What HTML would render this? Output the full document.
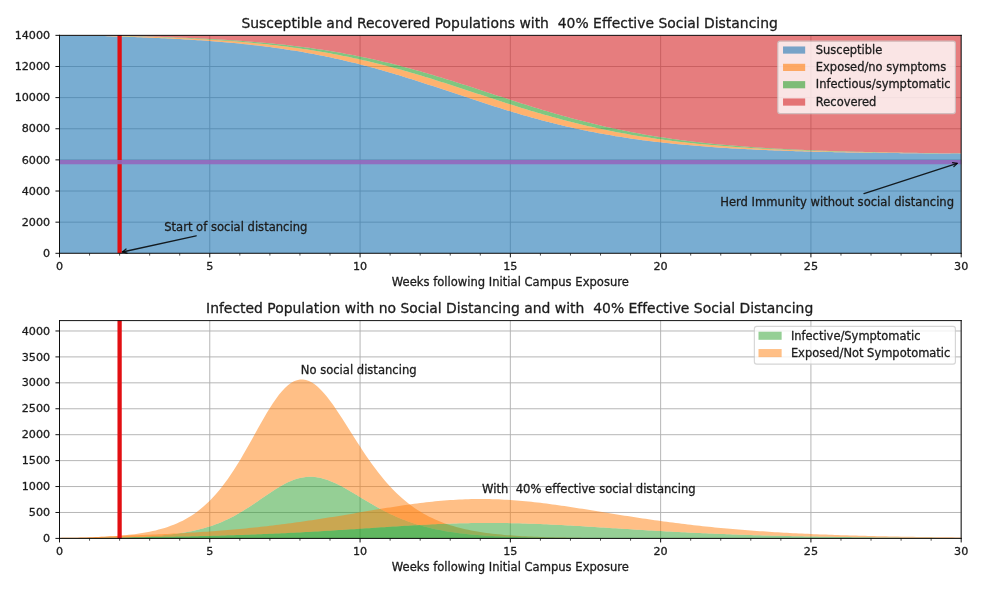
<!DOCTYPE html>
<html lang="en"><head><meta charset="utf-8"><title>SEIR social distancing</title>
<style>
html,body{margin:0;padding:0;background:#fff}
body{width:1000px;height:589px;overflow:hidden}
svg{display:block}
svg text{white-space:pre;font-family:"DejaVu Sans","Liberation Sans",sans-serif;font-variant-ligatures:none;fill:#1c1c1c;stroke:#1c1c1c;stroke-width:.3px}
</style></head><body>
<svg width="1000" height="589" viewBox="0 0 1000 589">
 <defs>
  <style type="text/css">*{stroke-linejoin: round; stroke-linecap: butt}</style>
 </defs>
 <g id="figure_1">
  <g id="patch_1">
   <path d="M 0 589 L 1000 589 L 1000 0 L 0 0 z" style="fill: #ffffff"/>
  </g>
  <g id="axes_1">
   <g id="patch_2">
    <path d="M 59.5 253.3 L 961.2 253.3 L 961.2 35.35 L 59.5 35.35 z" style="fill: #ffffff"/>
   </g>
   <g id="matplotlib.axis_1">
    <g id="xtick_1">
     <g id="line2d_1">
      <path d="M 59.5 253.3 L 59.5 35.35" clip-path="url(#p49906fe7d5)" style="fill: none; stroke: #b0b0b0; stroke-width: 0.93; stroke-linecap: square"/>
     </g>
     <g id="line2d_2">
      <defs>
       <path id="m286226e05e" d="M 0 0 L 0 4.05" style="stroke: #000000; stroke-width: 0.93"/>
      </defs>
      <g>
       <use href="#m286226e05e" x="59.5" y="253.3" style="stroke: #000000; stroke-width: 0.93"/>
      </g>
     </g>
     <g id="text_1">
      <text style="font-size: 11.17px; text-anchor: middle" x="59.5" y="270">0</text>
     </g>
    </g>
    <g id="xtick_2">
     <g id="line2d_3">
      <path d="M 209.78 253.3 L 209.78 35.35" clip-path="url(#p49906fe7d5)" style="fill: none; stroke: #b0b0b0; stroke-width: 0.93; stroke-linecap: square"/>
     </g>
     <g id="line2d_4">
      <g>
       <use href="#m286226e05e" x="209.78" y="253.3" style="stroke: #000000; stroke-width: 0.93"/>
      </g>
     </g>
     <g id="text_2">
      <text style="font-size: 11.17px; text-anchor: middle" x="209.78" y="270">5</text>
     </g>
    </g>
    <g id="xtick_3">
     <g id="line2d_5">
      <path d="M 360.07 253.3 L 360.07 35.35" clip-path="url(#p49906fe7d5)" style="fill: none; stroke: #b0b0b0; stroke-width: 0.93; stroke-linecap: square"/>
     </g>
     <g id="line2d_6">
      <g>
       <use href="#m286226e05e" x="360.07" y="253.3" style="stroke: #000000; stroke-width: 0.93"/>
      </g>
     </g>
     <g id="text_3">
      <text style="font-size: 11.17px; text-anchor: middle" x="360.07" y="270">10</text>
     </g>
    </g>
    <g id="xtick_4">
     <g id="line2d_7">
      <path d="M 510.35 253.3 L 510.35 35.35" clip-path="url(#p49906fe7d5)" style="fill: none; stroke: #b0b0b0; stroke-width: 0.93; stroke-linecap: square"/>
     </g>
     <g id="line2d_8">
      <g>
       <use href="#m286226e05e" x="510.35" y="253.3" style="stroke: #000000; stroke-width: 0.93"/>
      </g>
     </g>
     <g id="text_4">
      <text style="font-size: 11.17px; text-anchor: middle" x="510.35" y="270">15</text>
     </g>
    </g>
    <g id="xtick_5">
     <g id="line2d_9">
      <path d="M 660.63 253.3 L 660.63 35.35" clip-path="url(#p49906fe7d5)" style="fill: none; stroke: #b0b0b0; stroke-width: 0.93; stroke-linecap: square"/>
     </g>
     <g id="line2d_10">
      <g>
       <use href="#m286226e05e" x="660.63" y="253.3" style="stroke: #000000; stroke-width: 0.93"/>
      </g>
     </g>
     <g id="text_5">
      <text style="font-size: 11.17px; text-anchor: middle" x="660.63" y="270">20</text>
     </g>
    </g>
    <g id="xtick_6">
     <g id="line2d_11">
      <path d="M 810.92 253.3 L 810.92 35.35" clip-path="url(#p49906fe7d5)" style="fill: none; stroke: #b0b0b0; stroke-width: 0.93; stroke-linecap: square"/>
     </g>
     <g id="line2d_12">
      <g>
       <use href="#m286226e05e" x="810.92" y="253.3" style="stroke: #000000; stroke-width: 0.93"/>
      </g>
     </g>
     <g id="text_6">
      <text style="font-size: 11.17px; text-anchor: middle" x="810.92" y="270">25</text>
     </g>
    </g>
    <g id="xtick_7">
     <g id="line2d_13">
      <path d="M 961.2 253.3 L 961.2 35.35" clip-path="url(#p49906fe7d5)" style="fill: none; stroke: #b0b0b0; stroke-width: 0.93; stroke-linecap: square"/>
     </g>
     <g id="line2d_14">
      <g>
       <use href="#m286226e05e" x="961.2" y="253.3" style="stroke: #000000; stroke-width: 0.93"/>
      </g>
     </g>
     <g id="text_7">
      <text style="font-size: 11.17px; text-anchor: middle" x="961.2" y="270">30</text>
     </g>
    </g>
    <g id="xtick_8">
     <g id="line2d_15">
      <defs>
       <path id="m2da5305376" d="M 0 0 L 0 2.31" style="stroke: #000000; stroke-width: 0.69"/>
      </defs>
      <g>
       <use href="#m2da5305376" x="89.56" y="253.3" style="stroke: #000000; stroke-width: 0.69"/>
      </g>
     </g>
    </g>
    <g id="xtick_9">
     <g id="line2d_16">
      <g>
       <use href="#m2da5305376" x="119.61" y="253.3" style="stroke: #000000; stroke-width: 0.69"/>
      </g>
     </g>
    </g>
    <g id="xtick_10">
     <g id="line2d_17">
      <g>
       <use href="#m2da5305376" x="149.67" y="253.3" style="stroke: #000000; stroke-width: 0.69"/>
      </g>
     </g>
    </g>
    <g id="xtick_11">
     <g id="line2d_18">
      <g>
       <use href="#m2da5305376" x="179.73" y="253.3" style="stroke: #000000; stroke-width: 0.69"/>
      </g>
     </g>
    </g>
    <g id="xtick_12">
     <g id="line2d_19">
      <g>
       <use href="#m2da5305376" x="239.84" y="253.3" style="stroke: #000000; stroke-width: 0.69"/>
      </g>
     </g>
    </g>
    <g id="xtick_13">
     <g id="line2d_20">
      <g>
       <use href="#m2da5305376" x="269.9" y="253.3" style="stroke: #000000; stroke-width: 0.69"/>
      </g>
     </g>
    </g>
    <g id="xtick_14">
     <g id="line2d_21">
      <g>
       <use href="#m2da5305376" x="299.95" y="253.3" style="stroke: #000000; stroke-width: 0.69"/>
      </g>
     </g>
    </g>
    <g id="xtick_15">
     <g id="line2d_22">
      <g>
       <use href="#m2da5305376" x="330.01" y="253.3" style="stroke: #000000; stroke-width: 0.69"/>
      </g>
     </g>
    </g>
    <g id="xtick_16">
     <g id="line2d_23">
      <g>
       <use href="#m2da5305376" x="390.12" y="253.3" style="stroke: #000000; stroke-width: 0.69"/>
      </g>
     </g>
    </g>
    <g id="xtick_17">
     <g id="line2d_24">
      <g>
       <use href="#m2da5305376" x="420.18" y="253.3" style="stroke: #000000; stroke-width: 0.69"/>
      </g>
     </g>
    </g>
    <g id="xtick_18">
     <g id="line2d_25">
      <g>
       <use href="#m2da5305376" x="450.24" y="253.3" style="stroke: #000000; stroke-width: 0.69"/>
      </g>
     </g>
    </g>
    <g id="xtick_19">
     <g id="line2d_26">
      <g>
       <use href="#m2da5305376" x="480.29" y="253.3" style="stroke: #000000; stroke-width: 0.69"/>
      </g>
     </g>
    </g>
    <g id="xtick_20">
     <g id="line2d_27">
      <g>
       <use href="#m2da5305376" x="540.41" y="253.3" style="stroke: #000000; stroke-width: 0.69"/>
      </g>
     </g>
    </g>
    <g id="xtick_21">
     <g id="line2d_28">
      <g>
       <use href="#m2da5305376" x="570.46" y="253.3" style="stroke: #000000; stroke-width: 0.69"/>
      </g>
     </g>
    </g>
    <g id="xtick_22">
     <g id="line2d_29">
      <g>
       <use href="#m2da5305376" x="600.52" y="253.3" style="stroke: #000000; stroke-width: 0.69"/>
      </g>
     </g>
    </g>
    <g id="xtick_23">
     <g id="line2d_30">
      <g>
       <use href="#m2da5305376" x="630.58" y="253.3" style="stroke: #000000; stroke-width: 0.69"/>
      </g>
     </g>
    </g>
    <g id="xtick_24">
     <g id="line2d_31">
      <g>
       <use href="#m2da5305376" x="690.69" y="253.3" style="stroke: #000000; stroke-width: 0.69"/>
      </g>
     </g>
    </g>
    <g id="xtick_25">
     <g id="line2d_32">
      <g>
       <use href="#m2da5305376" x="720.75" y="253.3" style="stroke: #000000; stroke-width: 0.69"/>
      </g>
     </g>
    </g>
    <g id="xtick_26">
     <g id="line2d_33">
      <g>
       <use href="#m2da5305376" x="750.8" y="253.3" style="stroke: #000000; stroke-width: 0.69"/>
      </g>
     </g>
    </g>
    <g id="xtick_27">
     <g id="line2d_34">
      <g>
       <use href="#m2da5305376" x="780.86" y="253.3" style="stroke: #000000; stroke-width: 0.69"/>
      </g>
     </g>
    </g>
    <g id="xtick_28">
     <g id="line2d_35">
      <g>
       <use href="#m2da5305376" x="840.97" y="253.3" style="stroke: #000000; stroke-width: 0.69"/>
      </g>
     </g>
    </g>
    <g id="xtick_29">
     <g id="line2d_36">
      <g>
       <use href="#m2da5305376" x="871.03" y="253.3" style="stroke: #000000; stroke-width: 0.69"/>
      </g>
     </g>
    </g>
    <g id="xtick_30">
     <g id="line2d_37">
      <g>
       <use href="#m2da5305376" x="901.09" y="253.3" style="stroke: #000000; stroke-width: 0.69"/>
      </g>
     </g>
    </g>
    <g id="xtick_31">
     <g id="line2d_38">
      <g>
       <use href="#m2da5305376" x="931.14" y="253.3" style="stroke: #000000; stroke-width: 0.69"/>
      </g>
     </g>
    </g>
    <g id="text_8">
     <text style="font-size: 11.57px; text-anchor: middle" x="510.35" y="286">Weeks following Initial Campus Exposure</text>
    </g>
   </g>
   <g id="matplotlib.axis_2">
    <g id="ytick_1">
     <g id="line2d_39">
      <path d="M 59.5 253.3 L 961.2 253.3" clip-path="url(#p49906fe7d5)" style="fill: none; stroke: #b0b0b0; stroke-width: 0.93; stroke-linecap: square"/>
     </g>
     <g id="line2d_40">
      <defs>
       <path id="mc2c6d20268" d="M 0 0 L -4.05 0" style="stroke: #000000; stroke-width: 0.93"/>
      </defs>
      <g>
       <use href="#mc2c6d20268" x="59.5" y="253.3" style="stroke: #000000; stroke-width: 0.93"/>
      </g>
     </g>
     <g id="text_9">
      <text style="font-size: 11.17px; text-anchor: end" x="50.13" y="257">0</text>
     </g>
    </g>
    <g id="ytick_2">
     <g id="line2d_41">
      <path d="M 59.5 222.16 L 961.2 222.16" clip-path="url(#p49906fe7d5)" style="fill: none; stroke: #b0b0b0; stroke-width: 0.93; stroke-linecap: square"/>
     </g>
     <g id="line2d_42">
      <g>
       <use href="#mc2c6d20268" x="59.5" y="222.16" style="stroke: #000000; stroke-width: 0.93"/>
      </g>
     </g>
     <g id="text_10">
      <text style="font-size: 11.17px; text-anchor: end" x="50.13" y="226">2000</text>
     </g>
    </g>
    <g id="ytick_3">
     <g id="line2d_43">
      <path d="M 59.5 191.03 L 961.2 191.03" clip-path="url(#p49906fe7d5)" style="fill: none; stroke: #b0b0b0; stroke-width: 0.93; stroke-linecap: square"/>
     </g>
     <g id="line2d_44">
      <g>
       <use href="#mc2c6d20268" x="59.5" y="191.03" style="stroke: #000000; stroke-width: 0.93"/>
      </g>
     </g>
     <g id="text_11">
      <text style="font-size: 11.17px; text-anchor: end" x="50.13" y="195">4000</text>
     </g>
    </g>
    <g id="ytick_4">
     <g id="line2d_45">
      <path d="M 59.5 159.89 L 961.2 159.89" clip-path="url(#p49906fe7d5)" style="fill: none; stroke: #b0b0b0; stroke-width: 0.93; stroke-linecap: square"/>
     </g>
     <g id="line2d_46">
      <g>
       <use href="#mc2c6d20268" x="59.5" y="159.89" style="stroke: #000000; stroke-width: 0.93"/>
      </g>
     </g>
     <g id="text_12">
      <text style="font-size: 11.17px; text-anchor: end" x="50.13" y="164">6000</text>
     </g>
    </g>
    <g id="ytick_5">
     <g id="line2d_47">
      <path d="M 59.5 128.76 L 961.2 128.76" clip-path="url(#p49906fe7d5)" style="fill: none; stroke: #b0b0b0; stroke-width: 0.93; stroke-linecap: square"/>
     </g>
     <g id="line2d_48">
      <g>
       <use href="#mc2c6d20268" x="59.5" y="128.76" style="stroke: #000000; stroke-width: 0.93"/>
      </g>
     </g>
     <g id="text_13">
      <text style="font-size: 11.17px; text-anchor: end" x="50.13" y="132">8000</text>
     </g>
    </g>
    <g id="ytick_6">
     <g id="line2d_49">
      <path d="M 59.5 97.62 L 961.2 97.62" clip-path="url(#p49906fe7d5)" style="fill: none; stroke: #b0b0b0; stroke-width: 0.93; stroke-linecap: square"/>
     </g>
     <g id="line2d_50">
      <g>
       <use href="#mc2c6d20268" x="59.5" y="97.62" style="stroke: #000000; stroke-width: 0.93"/>
      </g>
     </g>
     <g id="text_14">
      <text style="font-size: 11.17px; text-anchor: end" x="50.13" y="101">10000</text>
     </g>
    </g>
    <g id="ytick_7">
     <g id="line2d_51">
      <path d="M 59.5 66.49 L 961.2 66.49" clip-path="url(#p49906fe7d5)" style="fill: none; stroke: #b0b0b0; stroke-width: 0.93; stroke-linecap: square"/>
     </g>
     <g id="line2d_52">
      <g>
       <use href="#mc2c6d20268" x="59.5" y="66.49" style="stroke: #000000; stroke-width: 0.93"/>
      </g>
     </g>
     <g id="text_15">
      <text style="font-size: 11.17px; text-anchor: end" x="50.13" y="70">12000</text>
     </g>
    </g>
    <g id="ytick_8">
     <g id="line2d_53">
      <path d="M 59.5 35.35 L 961.2 35.35" clip-path="url(#p49906fe7d5)" style="fill: none; stroke: #b0b0b0; stroke-width: 0.93; stroke-linecap: square"/>
     </g>
     <g id="line2d_54">
      <g>
       <use href="#mc2c6d20268" x="59.5" y="35.35" style="stroke: #000000; stroke-width: 0.93"/>
      </g>
     </g>
     <g id="text_16">
      <text style="font-size: 11.17px; text-anchor: end" x="50.13" y="39">14000</text>
     </g>
    </g>
   </g>
   <g id="FillBetweenPolyCollection_1">
    <path d="M 59.5 35.51 L 59.5 253.3 L 62.51 253.3 L 65.51 253.3 L 68.52 253.3 L 71.52 253.3 L 74.53 253.3 L 77.53 253.3 L 80.54 253.3 L 83.55 253.3 L 86.55 253.3 L 89.56 253.3 L 92.56 253.3 L 95.57 253.3 L 98.57 253.3 L 101.58 253.3 L 104.58 253.3 L 107.59 253.3 L 110.6 253.3 L 113.6 253.3 L 116.61 253.3 L 119.61 253.3 L 122.62 253.3 L 125.62 253.3 L 128.63 253.3 L 131.64 253.3 L 134.64 253.3 L 137.65 253.3 L 140.65 253.3 L 143.66 253.3 L 146.66 253.3 L 149.67 253.3 L 152.68 253.3 L 155.68 253.3 L 158.69 253.3 L 161.69 253.3 L 164.7 253.3 L 167.7 253.3 L 170.71 253.3 L 173.72 253.3 L 176.72 253.3 L 179.73 253.3 L 182.73 253.3 L 185.74 253.3 L 188.74 253.3 L 191.75 253.3 L 194.75 253.3 L 197.76 253.3 L 200.77 253.3 L 203.77 253.3 L 206.78 253.3 L 209.78 253.3 L 212.79 253.3 L 215.79 253.3 L 218.8 253.3 L 221.81 253.3 L 224.81 253.3 L 227.82 253.3 L 230.82 253.3 L 233.83 253.3 L 236.83 253.3 L 239.84 253.3 L 242.85 253.3 L 245.85 253.3 L 248.86 253.3 L 251.86 253.3 L 254.87 253.3 L 257.87 253.3 L 260.88 253.3 L 263.89 253.3 L 266.89 253.3 L 269.9 253.3 L 272.9 253.3 L 275.91 253.3 L 278.91 253.3 L 281.92 253.3 L 284.93 253.3 L 287.93 253.3 L 290.94 253.3 L 293.94 253.3 L 296.95 253.3 L 299.95 253.3 L 302.96 253.3 L 305.96 253.3 L 308.97 253.3 L 311.98 253.3 L 314.98 253.3 L 317.99 253.3 L 320.99 253.3 L 324 253.3 L 327 253.3 L 330.01 253.3 L 333.02 253.3 L 336.02 253.3 L 339.03 253.3 L 342.03 253.3 L 345.04 253.3 L 348.04 253.3 L 351.05 253.3 L 354.06 253.3 L 357.06 253.3 L 360.07 253.3 L 363.07 253.3 L 366.08 253.3 L 369.08 253.3 L 372.09 253.3 L 375.1 253.3 L 378.1 253.3 L 381.11 253.3 L 384.11 253.3 L 387.12 253.3 L 390.12 253.3 L 393.13 253.3 L 396.13 253.3 L 399.14 253.3 L 402.15 253.3 L 405.15 253.3 L 408.16 253.3 L 411.16 253.3 L 414.17 253.3 L 417.17 253.3 L 420.18 253.3 L 423.19 253.3 L 426.19 253.3 L 429.2 253.3 L 432.2 253.3 L 435.21 253.3 L 438.21 253.3 L 441.22 253.3 L 444.23 253.3 L 447.23 253.3 L 450.24 253.3 L 453.24 253.3 L 456.25 253.3 L 459.25 253.3 L 462.26 253.3 L 465.26 253.3 L 468.27 253.3 L 471.28 253.3 L 474.28 253.3 L 477.29 253.3 L 480.29 253.3 L 483.3 253.3 L 486.3 253.3 L 489.31 253.3 L 492.32 253.3 L 495.32 253.3 L 498.33 253.3 L 501.33 253.3 L 504.34 253.3 L 507.34 253.3 L 510.35 253.3 L 513.36 253.3 L 516.36 253.3 L 519.37 253.3 L 522.37 253.3 L 525.38 253.3 L 528.38 253.3 L 531.39 253.3 L 534.4 253.3 L 537.4 253.3 L 540.41 253.3 L 543.41 253.3 L 546.42 253.3 L 549.42 253.3 L 552.43 253.3 L 555.43 253.3 L 558.44 253.3 L 561.45 253.3 L 564.45 253.3 L 567.46 253.3 L 570.46 253.3 L 573.47 253.3 L 576.47 253.3 L 579.48 253.3 L 582.49 253.3 L 585.49 253.3 L 588.5 253.3 L 591.5 253.3 L 594.51 253.3 L 597.51 253.3 L 600.52 253.3 L 603.53 253.3 L 606.53 253.3 L 609.54 253.3 L 612.54 253.3 L 615.55 253.3 L 618.55 253.3 L 621.56 253.3 L 624.57 253.3 L 627.57 253.3 L 630.58 253.3 L 633.58 253.3 L 636.59 253.3 L 639.59 253.3 L 642.6 253.3 L 645.61 253.3 L 648.61 253.3 L 651.62 253.3 L 654.62 253.3 L 657.63 253.3 L 660.63 253.3 L 663.64 253.3 L 666.64 253.3 L 669.65 253.3 L 672.66 253.3 L 675.66 253.3 L 678.67 253.3 L 681.67 253.3 L 684.68 253.3 L 687.68 253.3 L 690.69 253.3 L 693.7 253.3 L 696.7 253.3 L 699.71 253.3 L 702.71 253.3 L 705.72 253.3 L 708.72 253.3 L 711.73 253.3 L 714.74 253.3 L 717.74 253.3 L 720.75 253.3 L 723.75 253.3 L 726.76 253.3 L 729.76 253.3 L 732.77 253.3 L 735.77 253.3 L 738.78 253.3 L 741.79 253.3 L 744.79 253.3 L 747.8 253.3 L 750.8 253.3 L 753.81 253.3 L 756.81 253.3 L 759.82 253.3 L 762.83 253.3 L 765.83 253.3 L 768.84 253.3 L 771.84 253.3 L 774.85 253.3 L 777.85 253.3 L 780.86 253.3 L 783.87 253.3 L 786.87 253.3 L 789.88 253.3 L 792.88 253.3 L 795.89 253.3 L 798.89 253.3 L 801.9 253.3 L 804.91 253.3 L 807.91 253.3 L 810.92 253.3 L 813.92 253.3 L 816.93 253.3 L 819.93 253.3 L 822.94 253.3 L 825.95 253.3 L 828.95 253.3 L 831.96 253.3 L 834.96 253.3 L 837.97 253.3 L 840.97 253.3 L 843.98 253.3 L 846.98 253.3 L 849.99 253.3 L 853 253.3 L 856 253.3 L 859.01 253.3 L 862.01 253.3 L 865.02 253.3 L 868.02 253.3 L 871.03 253.3 L 874.04 253.3 L 877.04 253.3 L 880.05 253.3 L 883.05 253.3 L 886.06 253.3 L 889.06 253.3 L 892.07 253.3 L 895.08 253.3 L 898.08 253.3 L 901.09 253.3 L 904.09 253.3 L 907.1 253.3 L 910.1 253.3 L 913.11 253.3 L 916.12 253.3 L 919.12 253.3 L 922.13 253.3 L 925.13 253.3 L 928.14 253.3 L 931.14 253.3 L 934.15 253.3 L 937.15 253.3 L 940.16 253.3 L 943.17 253.3 L 946.17 253.3 L 949.18 253.3 L 952.18 253.3 L 955.19 253.3 L 958.19 253.3 L 961.2 253.3 L 961.2 153.63 L 961.2 153.63 L 958.19 153.61 L 955.19 153.59 L 952.18 153.57 L 949.18 153.55 L 946.17 153.53 L 943.17 153.51 L 940.16 153.49 L 937.15 153.47 L 934.15 153.45 L 931.14 153.42 L 928.14 153.4 L 925.13 153.38 L 922.13 153.35 L 919.12 153.32 L 916.12 153.3 L 913.11 153.27 L 910.1 153.24 L 907.1 153.21 L 904.09 153.18 L 901.09 153.15 L 898.08 153.12 L 895.08 153.08 L 892.07 153.05 L 889.06 153.01 L 886.06 152.98 L 883.05 152.94 L 880.05 152.9 L 877.04 152.86 L 874.04 152.82 L 871.03 152.77 L 868.02 152.73 L 865.02 152.68 L 862.01 152.64 L 859.01 152.59 L 856 152.54 L 853 152.49 L 849.99 152.43 L 846.98 152.38 L 843.98 152.32 L 840.97 152.26 L 837.97 152.2 L 834.96 152.14 L 831.96 152.08 L 828.95 152.01 L 825.95 151.94 L 822.94 151.87 L 819.93 151.8 L 816.93 151.72 L 813.92 151.65 L 810.92 151.57 L 807.91 151.48 L 804.91 151.4 L 801.9 151.31 L 798.89 151.22 L 795.89 151.13 L 792.88 151.03 L 789.88 150.94 L 786.87 150.83 L 783.87 150.73 L 780.86 150.62 L 777.85 150.51 L 774.85 150.4 L 771.84 150.28 L 768.84 150.16 L 765.83 150.03 L 762.83 149.9 L 759.82 149.77 L 756.81 149.63 L 753.81 149.49 L 750.8 149.35 L 747.8 149.2 L 744.79 149.04 L 741.79 148.89 L 738.78 148.72 L 735.77 148.55 L 732.77 148.38 L 729.76 148.2 L 726.76 148.02 L 723.75 147.83 L 720.75 147.64 L 717.74 147.44 L 714.74 147.23 L 711.73 147.02 L 708.72 146.8 L 705.72 146.58 L 702.71 146.35 L 699.71 146.11 L 696.7 145.87 L 693.7 145.62 L 690.69 145.36 L 687.68 145.09 L 684.68 144.82 L 681.67 144.54 L 678.67 144.25 L 675.66 143.96 L 672.66 143.66 L 669.65 143.34 L 666.64 143.02 L 663.64 142.7 L 660.63 142.36 L 657.63 142.01 L 654.62 141.66 L 651.62 141.29 L 648.61 140.92 L 645.61 140.53 L 642.6 140.14 L 639.59 139.74 L 636.59 139.32 L 633.58 138.9 L 630.58 138.46 L 627.57 138.02 L 624.57 137.56 L 621.56 137.09 L 618.55 136.62 L 615.55 136.13 L 612.54 135.62 L 609.54 135.11 L 606.53 134.59 L 603.53 134.05 L 600.52 133.5 L 597.51 132.94 L 594.51 132.37 L 591.5 131.78 L 588.5 131.18 L 585.49 130.57 L 582.49 129.95 L 579.48 129.32 L 576.47 128.67 L 573.47 128.01 L 570.46 127.34 L 567.46 126.65 L 564.45 125.95 L 561.45 125.24 L 558.44 124.52 L 555.43 123.78 L 552.43 123.03 L 549.42 122.27 L 546.42 121.5 L 543.41 120.71 L 540.41 119.91 L 537.4 119.1 L 534.4 118.28 L 531.39 117.45 L 528.38 116.61 L 525.38 115.75 L 522.37 114.89 L 519.37 114.01 L 516.36 113.12 L 513.36 112.23 L 510.35 111.32 L 507.34 110.41 L 504.34 109.48 L 501.33 108.55 L 498.33 107.61 L 495.32 106.66 L 492.32 105.71 L 489.31 104.74 L 486.3 103.78 L 483.3 102.8 L 480.29 101.82 L 477.29 100.84 L 474.28 99.85 L 471.28 98.86 L 468.27 97.86 L 465.26 96.86 L 462.26 95.86 L 459.25 94.86 L 456.25 93.86 L 453.24 92.85 L 450.24 91.85 L 447.23 90.85 L 444.23 89.85 L 441.22 88.85 L 438.21 87.85 L 435.21 86.86 L 432.2 85.87 L 429.2 84.88 L 426.19 83.9 L 423.19 82.92 L 420.18 81.95 L 417.17 80.99 L 414.17 80.03 L 411.16 79.08 L 408.16 78.13 L 405.15 77.2 L 402.15 76.27 L 399.14 75.35 L 396.13 74.44 L 393.13 73.55 L 390.12 72.66 L 387.12 71.78 L 384.11 70.91 L 381.11 70.05 L 378.1 69.2 L 375.1 68.37 L 372.09 67.55 L 369.08 66.74 L 366.08 65.94 L 363.07 65.15 L 360.07 64.38 L 357.06 63.61 L 354.06 62.87 L 351.05 62.13 L 348.04 61.41 L 345.04 60.7 L 342.03 60 L 339.03 59.32 L 336.02 58.64 L 333.02 57.99 L 330.01 57.34 L 327 56.71 L 324 56.09 L 320.99 55.49 L 317.99 54.9 L 314.98 54.32 L 311.98 53.75 L 308.97 53.19 L 305.96 52.65 L 302.96 52.12 L 299.95 51.61 L 296.95 51.1 L 293.94 50.61 L 290.94 50.13 L 287.93 49.66 L 284.93 49.2 L 281.92 48.76 L 278.91 48.32 L 275.91 47.9 L 272.9 47.49 L 269.9 47.08 L 266.89 46.69 L 263.89 46.31 L 260.88 45.94 L 257.87 45.58 L 254.87 45.23 L 251.86 44.88 L 248.86 44.55 L 245.85 44.23 L 242.85 43.91 L 239.84 43.61 L 236.83 43.31 L 233.83 43.02 L 230.82 42.74 L 227.82 42.47 L 224.81 42.21 L 221.81 41.95 L 218.8 41.7 L 215.79 41.46 L 212.79 41.22 L 209.78 40.99 L 206.78 40.77 L 203.77 40.56 L 200.77 40.35 L 197.76 40.15 L 194.75 39.95 L 191.75 39.76 L 188.74 39.58 L 185.74 39.4 L 182.73 39.22 L 179.73 39.05 L 176.72 38.89 L 173.72 38.73 L 170.71 38.58 L 167.7 38.43 L 164.7 38.29 L 161.69 38.15 L 158.69 38.01 L 155.68 37.88 L 152.68 37.76 L 149.67 37.64 L 146.66 37.52 L 143.66 37.4 L 140.65 37.29 L 137.65 37.18 L 134.64 37.08 L 131.64 36.98 L 128.63 36.89 L 125.62 36.8 L 122.62 36.71 L 119.61 36.63 L 116.61 36.51 L 113.6 36.4 L 110.6 36.3 L 107.59 36.2 L 104.58 36.12 L 101.58 36.04 L 98.57 35.97 L 95.57 35.91 L 92.56 35.85 L 89.56 35.79 L 86.55 35.75 L 83.55 35.7 L 80.54 35.66 L 77.53 35.63 L 74.53 35.59 L 71.52 35.57 L 68.52 35.54 L 65.51 35.52 L 62.51 35.51 L 59.5 35.51 z" clip-path="url(#p49906fe7d5)" style="fill: #1f77b4; fill-opacity: 0.6"/>
   </g>
   <g id="FillBetweenPolyCollection_2">
    <path d="M 59.5 35.35 L 59.5 35.51 L 62.51 35.51 L 65.51 35.52 L 68.52 35.54 L 71.52 35.57 L 74.53 35.59 L 77.53 35.63 L 80.54 35.66 L 83.55 35.7 L 86.55 35.75 L 89.56 35.79 L 92.56 35.85 L 95.57 35.91 L 98.57 35.97 L 101.58 36.04 L 104.58 36.12 L 107.59 36.2 L 110.6 36.3 L 113.6 36.4 L 116.61 36.51 L 119.61 36.63 L 122.62 36.71 L 125.62 36.8 L 128.63 36.89 L 131.64 36.98 L 134.64 37.08 L 137.65 37.18 L 140.65 37.29 L 143.66 37.4 L 146.66 37.52 L 149.67 37.64 L 152.68 37.76 L 155.68 37.88 L 158.69 38.01 L 161.69 38.15 L 164.7 38.29 L 167.7 38.43 L 170.71 38.58 L 173.72 38.73 L 176.72 38.89 L 179.73 39.05 L 182.73 39.22 L 185.74 39.4 L 188.74 39.58 L 191.75 39.76 L 194.75 39.95 L 197.76 40.15 L 200.77 40.35 L 203.77 40.56 L 206.78 40.77 L 209.78 40.99 L 212.79 41.22 L 215.79 41.46 L 218.8 41.7 L 221.81 41.95 L 224.81 42.21 L 227.82 42.47 L 230.82 42.74 L 233.83 43.02 L 236.83 43.31 L 239.84 43.61 L 242.85 43.91 L 245.85 44.23 L 248.86 44.55 L 251.86 44.88 L 254.87 45.23 L 257.87 45.58 L 260.88 45.94 L 263.89 46.31 L 266.89 46.69 L 269.9 47.08 L 272.9 47.49 L 275.91 47.9 L 278.91 48.32 L 281.92 48.76 L 284.93 49.2 L 287.93 49.66 L 290.94 50.13 L 293.94 50.61 L 296.95 51.1 L 299.95 51.61 L 302.96 52.12 L 305.96 52.65 L 308.97 53.19 L 311.98 53.75 L 314.98 54.32 L 317.99 54.9 L 320.99 55.49 L 324 56.09 L 327 56.71 L 330.01 57.34 L 333.02 57.99 L 336.02 58.64 L 339.03 59.32 L 342.03 60 L 345.04 60.7 L 348.04 61.41 L 351.05 62.13 L 354.06 62.87 L 357.06 63.61 L 360.07 64.38 L 363.07 65.15 L 366.08 65.94 L 369.08 66.74 L 372.09 67.55 L 375.1 68.37 L 378.1 69.2 L 381.11 70.05 L 384.11 70.91 L 387.12 71.78 L 390.12 72.66 L 393.13 73.55 L 396.13 74.44 L 399.14 75.35 L 402.15 76.27 L 405.15 77.2 L 408.16 78.13 L 411.16 79.08 L 414.17 80.03 L 417.17 80.99 L 420.18 81.95 L 423.19 82.92 L 426.19 83.9 L 429.2 84.88 L 432.2 85.87 L 435.21 86.86 L 438.21 87.85 L 441.22 88.85 L 444.23 89.85 L 447.23 90.85 L 450.24 91.85 L 453.24 92.85 L 456.25 93.86 L 459.25 94.86 L 462.26 95.86 L 465.26 96.86 L 468.27 97.86 L 471.28 98.86 L 474.28 99.85 L 477.29 100.84 L 480.29 101.82 L 483.3 102.8 L 486.3 103.78 L 489.31 104.74 L 492.32 105.71 L 495.32 106.66 L 498.33 107.61 L 501.33 108.55 L 504.34 109.48 L 507.34 110.41 L 510.35 111.32 L 513.36 112.23 L 516.36 113.12 L 519.37 114.01 L 522.37 114.89 L 525.38 115.75 L 528.38 116.61 L 531.39 117.45 L 534.4 118.28 L 537.4 119.1 L 540.41 119.91 L 543.41 120.71 L 546.42 121.5 L 549.42 122.27 L 552.43 123.03 L 555.43 123.78 L 558.44 124.52 L 561.45 125.24 L 564.45 125.95 L 567.46 126.65 L 570.46 127.34 L 573.47 128.01 L 576.47 128.67 L 579.48 129.32 L 582.49 129.95 L 585.49 130.57 L 588.5 131.18 L 591.5 131.78 L 594.51 132.37 L 597.51 132.94 L 600.52 133.5 L 603.53 134.05 L 606.53 134.59 L 609.54 135.11 L 612.54 135.62 L 615.55 136.13 L 618.55 136.62 L 621.56 137.09 L 624.57 137.56 L 627.57 138.02 L 630.58 138.46 L 633.58 138.9 L 636.59 139.32 L 639.59 139.74 L 642.6 140.14 L 645.61 140.53 L 648.61 140.92 L 651.62 141.29 L 654.62 141.66 L 657.63 142.01 L 660.63 142.36 L 663.64 142.7 L 666.64 143.02 L 669.65 143.34 L 672.66 143.66 L 675.66 143.96 L 678.67 144.25 L 681.67 144.54 L 684.68 144.82 L 687.68 145.09 L 690.69 145.36 L 693.7 145.62 L 696.7 145.87 L 699.71 146.11 L 702.71 146.35 L 705.72 146.58 L 708.72 146.8 L 711.73 147.02 L 714.74 147.23 L 717.74 147.44 L 720.75 147.64 L 723.75 147.83 L 726.76 148.02 L 729.76 148.2 L 732.77 148.38 L 735.77 148.55 L 738.78 148.72 L 741.79 148.89 L 744.79 149.04 L 747.8 149.2 L 750.8 149.35 L 753.81 149.49 L 756.81 149.63 L 759.82 149.77 L 762.83 149.9 L 765.83 150.03 L 768.84 150.16 L 771.84 150.28 L 774.85 150.4 L 777.85 150.51 L 780.86 150.62 L 783.87 150.73 L 786.87 150.83 L 789.88 150.94 L 792.88 151.03 L 795.89 151.13 L 798.89 151.22 L 801.9 151.31 L 804.91 151.4 L 807.91 151.48 L 810.92 151.57 L 813.92 151.65 L 816.93 151.72 L 819.93 151.8 L 822.94 151.87 L 825.95 151.94 L 828.95 152.01 L 831.96 152.08 L 834.96 152.14 L 837.97 152.2 L 840.97 152.26 L 843.98 152.32 L 846.98 152.38 L 849.99 152.43 L 853 152.49 L 856 152.54 L 859.01 152.59 L 862.01 152.64 L 865.02 152.68 L 868.02 152.73 L 871.03 152.77 L 874.04 152.82 L 877.04 152.86 L 880.05 152.9 L 883.05 152.94 L 886.06 152.98 L 889.06 153.01 L 892.07 153.05 L 895.08 153.08 L 898.08 153.12 L 901.09 153.15 L 904.09 153.18 L 907.1 153.21 L 910.1 153.24 L 913.11 153.27 L 916.12 153.3 L 919.12 153.32 L 922.13 153.35 L 925.13 153.38 L 928.14 153.4 L 931.14 153.42 L 934.15 153.45 L 937.15 153.47 L 940.16 153.49 L 943.17 153.51 L 946.17 153.53 L 949.18 153.55 L 952.18 153.57 L 955.19 153.59 L 958.19 153.61 L 961.2 153.63 L 961.2 153.46 L 961.2 153.46 L 958.19 153.44 L 955.19 153.42 L 952.18 153.39 L 949.18 153.37 L 946.17 153.34 L 943.17 153.32 L 940.16 153.29 L 937.15 153.26 L 934.15 153.23 L 931.14 153.2 L 928.14 153.17 L 925.13 153.14 L 922.13 153.11 L 919.12 153.07 L 916.12 153.04 L 913.11 153 L 910.1 152.97 L 907.1 152.93 L 904.09 152.89 L 901.09 152.85 L 898.08 152.81 L 895.08 152.76 L 892.07 152.72 L 889.06 152.67 L 886.06 152.62 L 883.05 152.58 L 880.05 152.53 L 877.04 152.47 L 874.04 152.42 L 871.03 152.36 L 868.02 152.31 L 865.02 152.25 L 862.01 152.19 L 859.01 152.12 L 856 152.06 L 853 151.99 L 849.99 151.92 L 846.98 151.85 L 843.98 151.78 L 840.97 151.71 L 837.97 151.63 L 834.96 151.55 L 831.96 151.47 L 828.95 151.38 L 825.95 151.29 L 822.94 151.2 L 819.93 151.11 L 816.93 151.01 L 813.92 150.91 L 810.92 150.81 L 807.91 150.71 L 804.91 150.6 L 801.9 150.49 L 798.89 150.37 L 795.89 150.25 L 792.88 150.13 L 789.88 150.01 L 786.87 149.88 L 783.87 149.74 L 780.86 149.61 L 777.85 149.47 L 774.85 149.32 L 771.84 149.17 L 768.84 149.02 L 765.83 148.86 L 762.83 148.69 L 759.82 148.53 L 756.81 148.35 L 753.81 148.17 L 750.8 147.99 L 747.8 147.8 L 744.79 147.61 L 741.79 147.41 L 738.78 147.2 L 735.77 146.99 L 732.77 146.77 L 729.76 146.55 L 726.76 146.32 L 723.75 146.08 L 720.75 145.84 L 717.74 145.59 L 714.74 145.33 L 711.73 145.07 L 708.72 144.8 L 705.72 144.52 L 702.71 144.23 L 699.71 143.94 L 696.7 143.64 L 693.7 143.33 L 690.69 143.01 L 687.68 142.68 L 684.68 142.35 L 681.67 142 L 678.67 141.65 L 675.66 141.29 L 672.66 140.91 L 669.65 140.53 L 666.64 140.14 L 663.64 139.74 L 660.63 139.33 L 657.63 138.91 L 654.62 138.48 L 651.62 138.04 L 648.61 137.59 L 645.61 137.12 L 642.6 136.65 L 639.59 136.17 L 636.59 135.67 L 633.58 135.16 L 630.58 134.64 L 627.57 134.11 L 624.57 133.57 L 621.56 133.02 L 618.55 132.45 L 615.55 131.88 L 612.54 131.29 L 609.54 130.69 L 606.53 130.07 L 603.53 129.45 L 600.52 128.81 L 597.51 128.16 L 594.51 127.5 L 591.5 126.82 L 588.5 126.14 L 585.49 125.44 L 582.49 124.73 L 579.48 124 L 576.47 123.27 L 573.47 122.52 L 570.46 121.76 L 567.46 120.99 L 564.45 120.21 L 561.45 119.41 L 558.44 118.61 L 555.43 117.79 L 552.43 116.96 L 549.42 116.12 L 546.42 115.27 L 543.41 114.41 L 540.41 113.54 L 537.4 112.66 L 534.4 111.78 L 531.39 110.88 L 528.38 109.97 L 525.38 109.06 L 522.37 108.14 L 519.37 107.21 L 516.36 106.27 L 513.36 105.32 L 510.35 104.37 L 507.34 103.42 L 504.34 102.45 L 501.33 101.49 L 498.33 100.52 L 495.32 99.54 L 492.32 98.56 L 489.31 97.58 L 486.3 96.59 L 483.3 95.61 L 480.29 94.62 L 477.29 93.63 L 474.28 92.64 L 471.28 91.65 L 468.27 90.66 L 465.26 89.68 L 462.26 88.69 L 459.25 87.71 L 456.25 86.73 L 453.24 85.75 L 450.24 84.78 L 447.23 83.81 L 444.23 82.85 L 441.22 81.89 L 438.21 80.94 L 435.21 79.99 L 432.2 79.05 L 429.2 78.12 L 426.19 77.19 L 423.19 76.28 L 420.18 75.37 L 417.17 74.47 L 414.17 73.58 L 411.16 72.7 L 408.16 71.83 L 405.15 70.97 L 402.15 70.12 L 399.14 69.28 L 396.13 68.46 L 393.13 67.64 L 390.12 66.84 L 387.12 66.04 L 384.11 65.26 L 381.11 64.49 L 378.1 63.74 L 375.1 62.99 L 372.09 62.26 L 369.08 61.54 L 366.08 60.83 L 363.07 60.14 L 360.07 59.46 L 357.06 58.79 L 354.06 58.14 L 351.05 57.49 L 348.04 56.86 L 345.04 56.25 L 342.03 55.64 L 339.03 55.05 L 336.02 54.47 L 333.02 53.9 L 330.01 53.35 L 327 52.81 L 324 52.28 L 320.99 51.76 L 317.99 51.26 L 314.98 50.76 L 311.98 50.28 L 308.97 49.81 L 305.96 49.35 L 302.96 48.9 L 299.95 48.47 L 296.95 48.04 L 293.94 47.63 L 290.94 47.22 L 287.93 46.83 L 284.93 46.45 L 281.92 46.07 L 278.91 45.71 L 275.91 45.36 L 272.9 45.01 L 269.9 44.68 L 266.89 44.35 L 263.89 44.03 L 260.88 43.73 L 257.87 43.43 L 254.87 43.14 L 251.86 42.85 L 248.86 42.58 L 245.85 42.31 L 242.85 42.05 L 239.84 41.8 L 236.83 41.56 L 233.83 41.32 L 230.82 41.09 L 227.82 40.86 L 224.81 40.65 L 221.81 40.44 L 218.8 40.23 L 215.79 40.03 L 212.79 39.84 L 209.78 39.65 L 206.78 39.47 L 203.77 39.3 L 200.77 39.13 L 197.76 38.96 L 194.75 38.8 L 191.75 38.65 L 188.74 38.5 L 185.74 38.35 L 182.73 38.21 L 179.73 38.07 L 176.72 37.94 L 173.72 37.81 L 170.71 37.69 L 167.7 37.57 L 164.7 37.45 L 161.69 37.34 L 158.69 37.23 L 155.68 37.12 L 152.68 37.02 L 149.67 36.92 L 146.66 36.83 L 143.66 36.73 L 140.65 36.64 L 137.65 36.55 L 134.64 36.47 L 131.64 36.39 L 128.63 36.31 L 125.62 36.23 L 122.62 36.15 L 119.61 36.07 L 116.61 36 L 113.6 35.93 L 110.6 35.87 L 107.59 35.82 L 104.58 35.77 L 101.58 35.72 L 98.57 35.68 L 95.57 35.64 L 92.56 35.6 L 89.56 35.57 L 86.55 35.54 L 83.55 35.51 L 80.54 35.49 L 77.53 35.47 L 74.53 35.45 L 71.52 35.43 L 68.52 35.41 L 65.51 35.39 L 62.51 35.37 L 59.5 35.35 z" clip-path="url(#p49906fe7d5)" style="fill: #ff7f0e; fill-opacity: 0.6"/>
   </g>
   <g id="FillBetweenPolyCollection_3">
    <path d="M 59.5 35.35 L 59.5 35.35 L 62.51 35.37 L 65.51 35.39 L 68.52 35.41 L 71.52 35.43 L 74.53 35.45 L 77.53 35.47 L 80.54 35.49 L 83.55 35.51 L 86.55 35.54 L 89.56 35.57 L 92.56 35.6 L 95.57 35.64 L 98.57 35.68 L 101.58 35.72 L 104.58 35.77 L 107.59 35.82 L 110.6 35.87 L 113.6 35.93 L 116.61 36 L 119.61 36.07 L 122.62 36.15 L 125.62 36.23 L 128.63 36.31 L 131.64 36.39 L 134.64 36.47 L 137.65 36.55 L 140.65 36.64 L 143.66 36.73 L 146.66 36.83 L 149.67 36.92 L 152.68 37.02 L 155.68 37.12 L 158.69 37.23 L 161.69 37.34 L 164.7 37.45 L 167.7 37.57 L 170.71 37.69 L 173.72 37.81 L 176.72 37.94 L 179.73 38.07 L 182.73 38.21 L 185.74 38.35 L 188.74 38.5 L 191.75 38.65 L 194.75 38.8 L 197.76 38.96 L 200.77 39.13 L 203.77 39.3 L 206.78 39.47 L 209.78 39.65 L 212.79 39.84 L 215.79 40.03 L 218.8 40.23 L 221.81 40.44 L 224.81 40.65 L 227.82 40.86 L 230.82 41.09 L 233.83 41.32 L 236.83 41.56 L 239.84 41.8 L 242.85 42.05 L 245.85 42.31 L 248.86 42.58 L 251.86 42.85 L 254.87 43.14 L 257.87 43.43 L 260.88 43.73 L 263.89 44.03 L 266.89 44.35 L 269.9 44.68 L 272.9 45.01 L 275.91 45.36 L 278.91 45.71 L 281.92 46.07 L 284.93 46.45 L 287.93 46.83 L 290.94 47.22 L 293.94 47.63 L 296.95 48.04 L 299.95 48.47 L 302.96 48.9 L 305.96 49.35 L 308.97 49.81 L 311.98 50.28 L 314.98 50.76 L 317.99 51.26 L 320.99 51.76 L 324 52.28 L 327 52.81 L 330.01 53.35 L 333.02 53.9 L 336.02 54.47 L 339.03 55.05 L 342.03 55.64 L 345.04 56.25 L 348.04 56.86 L 351.05 57.49 L 354.06 58.14 L 357.06 58.79 L 360.07 59.46 L 363.07 60.14 L 366.08 60.83 L 369.08 61.54 L 372.09 62.26 L 375.1 62.99 L 378.1 63.74 L 381.11 64.49 L 384.11 65.26 L 387.12 66.04 L 390.12 66.84 L 393.13 67.64 L 396.13 68.46 L 399.14 69.28 L 402.15 70.12 L 405.15 70.97 L 408.16 71.83 L 411.16 72.7 L 414.17 73.58 L 417.17 74.47 L 420.18 75.37 L 423.19 76.28 L 426.19 77.19 L 429.2 78.12 L 432.2 79.05 L 435.21 79.99 L 438.21 80.94 L 441.22 81.89 L 444.23 82.85 L 447.23 83.81 L 450.24 84.78 L 453.24 85.75 L 456.25 86.73 L 459.25 87.71 L 462.26 88.69 L 465.26 89.68 L 468.27 90.66 L 471.28 91.65 L 474.28 92.64 L 477.29 93.63 L 480.29 94.62 L 483.3 95.61 L 486.3 96.59 L 489.31 97.58 L 492.32 98.56 L 495.32 99.54 L 498.33 100.52 L 501.33 101.49 L 504.34 102.45 L 507.34 103.42 L 510.35 104.37 L 513.36 105.32 L 516.36 106.27 L 519.37 107.21 L 522.37 108.14 L 525.38 109.06 L 528.38 109.97 L 531.39 110.88 L 534.4 111.78 L 537.4 112.66 L 540.41 113.54 L 543.41 114.41 L 546.42 115.27 L 549.42 116.12 L 552.43 116.96 L 555.43 117.79 L 558.44 118.61 L 561.45 119.41 L 564.45 120.21 L 567.46 120.99 L 570.46 121.76 L 573.47 122.52 L 576.47 123.27 L 579.48 124 L 582.49 124.73 L 585.49 125.44 L 588.5 126.14 L 591.5 126.82 L 594.51 127.5 L 597.51 128.16 L 600.52 128.81 L 603.53 129.45 L 606.53 130.07 L 609.54 130.69 L 612.54 131.29 L 615.55 131.88 L 618.55 132.45 L 621.56 133.02 L 624.57 133.57 L 627.57 134.11 L 630.58 134.64 L 633.58 135.16 L 636.59 135.67 L 639.59 136.17 L 642.6 136.65 L 645.61 137.12 L 648.61 137.59 L 651.62 138.04 L 654.62 138.48 L 657.63 138.91 L 660.63 139.33 L 663.64 139.74 L 666.64 140.14 L 669.65 140.53 L 672.66 140.91 L 675.66 141.29 L 678.67 141.65 L 681.67 142 L 684.68 142.35 L 687.68 142.68 L 690.69 143.01 L 693.7 143.33 L 696.7 143.64 L 699.71 143.94 L 702.71 144.23 L 705.72 144.52 L 708.72 144.8 L 711.73 145.07 L 714.74 145.33 L 717.74 145.59 L 720.75 145.84 L 723.75 146.08 L 726.76 146.32 L 729.76 146.55 L 732.77 146.77 L 735.77 146.99 L 738.78 147.2 L 741.79 147.41 L 744.79 147.61 L 747.8 147.8 L 750.8 147.99 L 753.81 148.17 L 756.81 148.35 L 759.82 148.53 L 762.83 148.69 L 765.83 148.86 L 768.84 149.02 L 771.84 149.17 L 774.85 149.32 L 777.85 149.47 L 780.86 149.61 L 783.87 149.74 L 786.87 149.88 L 789.88 150.01 L 792.88 150.13 L 795.89 150.25 L 798.89 150.37 L 801.9 150.49 L 804.91 150.6 L 807.91 150.71 L 810.92 150.81 L 813.92 150.91 L 816.93 151.01 L 819.93 151.11 L 822.94 151.2 L 825.95 151.29 L 828.95 151.38 L 831.96 151.47 L 834.96 151.55 L 837.97 151.63 L 840.97 151.71 L 843.98 151.78 L 846.98 151.85 L 849.99 151.92 L 853 151.99 L 856 152.06 L 859.01 152.12 L 862.01 152.19 L 865.02 152.25 L 868.02 152.31 L 871.03 152.36 L 874.04 152.42 L 877.04 152.47 L 880.05 152.53 L 883.05 152.58 L 886.06 152.62 L 889.06 152.67 L 892.07 152.72 L 895.08 152.76 L 898.08 152.81 L 901.09 152.85 L 904.09 152.89 L 907.1 152.93 L 910.1 152.97 L 913.11 153 L 916.12 153.04 L 919.12 153.07 L 922.13 153.11 L 925.13 153.14 L 928.14 153.17 L 931.14 153.2 L 934.15 153.23 L 937.15 153.26 L 940.16 153.29 L 943.17 153.32 L 946.17 153.34 L 949.18 153.37 L 952.18 153.39 L 955.19 153.42 L 958.19 153.44 L 961.2 153.46 L 961.2 153.34 L 961.2 153.34 L 958.19 153.32 L 955.19 153.29 L 952.18 153.26 L 949.18 153.23 L 946.17 153.2 L 943.17 153.17 L 940.16 153.14 L 937.15 153.11 L 934.15 153.07 L 931.14 153.04 L 928.14 153 L 925.13 152.96 L 922.13 152.92 L 919.12 152.89 L 916.12 152.84 L 913.11 152.8 L 910.1 152.76 L 907.1 152.71 L 904.09 152.67 L 901.09 152.62 L 898.08 152.57 L 895.08 152.52 L 892.07 152.47 L 889.06 152.41 L 886.06 152.36 L 883.05 152.3 L 880.05 152.24 L 877.04 152.18 L 874.04 152.12 L 871.03 152.05 L 868.02 151.99 L 865.02 151.92 L 862.01 151.85 L 859.01 151.77 L 856 151.7 L 853 151.62 L 849.99 151.54 L 846.98 151.46 L 843.98 151.37 L 840.97 151.29 L 837.97 151.19 L 834.96 151.1 L 831.96 151.01 L 828.95 150.91 L 825.95 150.8 L 822.94 150.7 L 819.93 150.59 L 816.93 150.48 L 813.92 150.36 L 810.92 150.25 L 807.91 150.12 L 804.91 150 L 801.9 149.87 L 798.89 149.74 L 795.89 149.6 L 792.88 149.46 L 789.88 149.31 L 786.87 149.16 L 783.87 149.01 L 780.86 148.85 L 777.85 148.68 L 774.85 148.52 L 771.84 148.34 L 768.84 148.16 L 765.83 147.98 L 762.83 147.79 L 759.82 147.6 L 756.81 147.4 L 753.81 147.19 L 750.8 146.98 L 747.8 146.76 L 744.79 146.54 L 741.79 146.31 L 738.78 146.07 L 735.77 145.83 L 732.77 145.58 L 729.76 145.32 L 726.76 145.06 L 723.75 144.79 L 720.75 144.51 L 717.74 144.22 L 714.74 143.93 L 711.73 143.63 L 708.72 143.32 L 705.72 143 L 702.71 142.67 L 699.71 142.34 L 696.7 142 L 693.7 141.64 L 690.69 141.28 L 687.68 140.91 L 684.68 140.53 L 681.67 140.14 L 678.67 139.74 L 675.66 139.33 L 672.66 138.91 L 669.65 138.48 L 666.64 138.04 L 663.64 137.59 L 660.63 137.13 L 657.63 136.66 L 654.62 136.18 L 651.62 135.68 L 648.61 135.18 L 645.61 134.66 L 642.6 134.14 L 639.59 133.6 L 636.59 133.05 L 633.58 132.48 L 630.58 131.91 L 627.57 131.32 L 624.57 130.72 L 621.56 130.11 L 618.55 129.49 L 615.55 128.86 L 612.54 128.21 L 609.54 127.55 L 606.53 126.88 L 603.53 126.2 L 600.52 125.51 L 597.51 124.8 L 594.51 124.08 L 591.5 123.35 L 588.5 122.61 L 585.49 121.85 L 582.49 121.09 L 579.48 120.31 L 576.47 119.52 L 573.47 118.72 L 570.46 117.91 L 567.46 117.09 L 564.45 116.26 L 561.45 115.41 L 558.44 114.56 L 555.43 113.7 L 552.43 112.83 L 549.42 111.94 L 546.42 111.05 L 543.41 110.15 L 540.41 109.25 L 537.4 108.33 L 534.4 107.41 L 531.39 106.48 L 528.38 105.54 L 525.38 104.59 L 522.37 103.65 L 519.37 102.69 L 516.36 101.73 L 513.36 100.77 L 510.35 99.8 L 507.34 98.82 L 504.34 97.85 L 501.33 96.87 L 498.33 95.89 L 495.32 94.91 L 492.32 93.93 L 489.31 92.94 L 486.3 91.96 L 483.3 90.98 L 480.29 89.99 L 477.29 89.01 L 474.28 88.04 L 471.28 87.06 L 468.27 86.09 L 465.26 85.12 L 462.26 84.15 L 459.25 83.19 L 456.25 82.24 L 453.24 81.29 L 450.24 80.35 L 447.23 79.41 L 444.23 78.48 L 441.22 77.56 L 438.21 76.64 L 435.21 75.74 L 432.2 74.84 L 429.2 73.95 L 426.19 73.07 L 423.19 72.2 L 420.18 71.34 L 417.17 70.49 L 414.17 69.65 L 411.16 68.82 L 408.16 68 L 405.15 67.2 L 402.15 66.4 L 399.14 65.62 L 396.13 64.85 L 393.13 64.09 L 390.12 63.34 L 387.12 62.61 L 384.11 61.89 L 381.11 61.18 L 378.1 60.48 L 375.1 59.79 L 372.09 59.12 L 369.08 58.46 L 366.08 57.82 L 363.07 57.18 L 360.07 56.56 L 357.06 55.95 L 354.06 55.35 L 351.05 54.77 L 348.04 54.2 L 345.04 53.64 L 342.03 53.09 L 339.03 52.56 L 336.02 52.04 L 333.02 51.53 L 330.01 51.03 L 327 50.54 L 324 50.07 L 320.99 49.6 L 317.99 49.15 L 314.98 48.71 L 311.98 48.28 L 308.97 47.86 L 305.96 47.45 L 302.96 47.05 L 299.95 46.66 L 296.95 46.28 L 293.94 45.92 L 290.94 45.56 L 287.93 45.21 L 284.93 44.87 L 281.92 44.54 L 278.91 44.22 L 275.91 43.9 L 272.9 43.6 L 269.9 43.3 L 266.89 43.02 L 263.89 42.74 L 260.88 42.47 L 257.87 42.2 L 254.87 41.95 L 251.86 41.7 L 248.86 41.46 L 245.85 41.22 L 242.85 41 L 239.84 40.78 L 236.83 40.56 L 233.83 40.35 L 230.82 40.15 L 227.82 39.96 L 224.81 39.77 L 221.81 39.58 L 218.8 39.4 L 215.79 39.23 L 212.79 39.06 L 209.78 38.9 L 206.78 38.74 L 203.77 38.59 L 200.77 38.44 L 197.76 38.3 L 194.75 38.16 L 191.75 38.02 L 188.74 37.89 L 185.74 37.76 L 182.73 37.64 L 179.73 37.52 L 176.72 37.41 L 173.72 37.3 L 170.71 37.19 L 167.7 37.08 L 164.7 36.98 L 161.69 36.89 L 158.69 36.79 L 155.68 36.7 L 152.68 36.61 L 149.67 36.52 L 146.66 36.44 L 143.66 36.36 L 140.65 36.28 L 137.65 36.21 L 134.64 36.14 L 131.64 36.07 L 128.63 36 L 125.62 35.94 L 122.62 35.88 L 119.61 35.82 L 116.61 35.77 L 113.6 35.72 L 110.6 35.68 L 107.59 35.64 L 104.58 35.61 L 101.58 35.57 L 98.57 35.54 L 95.57 35.52 L 92.56 35.49 L 89.56 35.47 L 86.55 35.45 L 83.55 35.43 L 80.54 35.42 L 77.53 35.4 L 74.53 35.39 L 71.52 35.38 L 68.52 35.37 L 65.51 35.36 L 62.51 35.35 L 59.5 35.35 z" clip-path="url(#p49906fe7d5)" style="fill: #2ca02c; fill-opacity: 0.6"/>
   </g>
   <g id="FillBetweenPolyCollection_4">
    <path d="M 59.5 35.35 L 59.5 35.35 L 62.51 35.35 L 65.51 35.36 L 68.52 35.37 L 71.52 35.38 L 74.53 35.39 L 77.53 35.4 L 80.54 35.42 L 83.55 35.43 L 86.55 35.45 L 89.56 35.47 L 92.56 35.49 L 95.57 35.52 L 98.57 35.54 L 101.58 35.57 L 104.58 35.61 L 107.59 35.64 L 110.6 35.68 L 113.6 35.72 L 116.61 35.77 L 119.61 35.82 L 122.62 35.88 L 125.62 35.94 L 128.63 36 L 131.64 36.07 L 134.64 36.14 L 137.65 36.21 L 140.65 36.28 L 143.66 36.36 L 146.66 36.44 L 149.67 36.52 L 152.68 36.61 L 155.68 36.7 L 158.69 36.79 L 161.69 36.89 L 164.7 36.98 L 167.7 37.08 L 170.71 37.19 L 173.72 37.3 L 176.72 37.41 L 179.73 37.52 L 182.73 37.64 L 185.74 37.76 L 188.74 37.89 L 191.75 38.02 L 194.75 38.16 L 197.76 38.3 L 200.77 38.44 L 203.77 38.59 L 206.78 38.74 L 209.78 38.9 L 212.79 39.06 L 215.79 39.23 L 218.8 39.4 L 221.81 39.58 L 224.81 39.77 L 227.82 39.96 L 230.82 40.15 L 233.83 40.35 L 236.83 40.56 L 239.84 40.78 L 242.85 41 L 245.85 41.22 L 248.86 41.46 L 251.86 41.7 L 254.87 41.95 L 257.87 42.2 L 260.88 42.47 L 263.89 42.74 L 266.89 43.02 L 269.9 43.3 L 272.9 43.6 L 275.91 43.9 L 278.91 44.22 L 281.92 44.54 L 284.93 44.87 L 287.93 45.21 L 290.94 45.56 L 293.94 45.92 L 296.95 46.28 L 299.95 46.66 L 302.96 47.05 L 305.96 47.45 L 308.97 47.86 L 311.98 48.28 L 314.98 48.71 L 317.99 49.15 L 320.99 49.6 L 324 50.07 L 327 50.54 L 330.01 51.03 L 333.02 51.53 L 336.02 52.04 L 339.03 52.56 L 342.03 53.09 L 345.04 53.64 L 348.04 54.2 L 351.05 54.77 L 354.06 55.35 L 357.06 55.95 L 360.07 56.56 L 363.07 57.18 L 366.08 57.82 L 369.08 58.46 L 372.09 59.12 L 375.1 59.79 L 378.1 60.48 L 381.11 61.18 L 384.11 61.89 L 387.12 62.61 L 390.12 63.34 L 393.13 64.09 L 396.13 64.85 L 399.14 65.62 L 402.15 66.4 L 405.15 67.2 L 408.16 68 L 411.16 68.82 L 414.17 69.65 L 417.17 70.49 L 420.18 71.34 L 423.19 72.2 L 426.19 73.07 L 429.2 73.95 L 432.2 74.84 L 435.21 75.74 L 438.21 76.64 L 441.22 77.56 L 444.23 78.48 L 447.23 79.41 L 450.24 80.35 L 453.24 81.29 L 456.25 82.24 L 459.25 83.19 L 462.26 84.15 L 465.26 85.12 L 468.27 86.09 L 471.28 87.06 L 474.28 88.04 L 477.29 89.01 L 480.29 89.99 L 483.3 90.98 L 486.3 91.96 L 489.31 92.94 L 492.32 93.93 L 495.32 94.91 L 498.33 95.89 L 501.33 96.87 L 504.34 97.85 L 507.34 98.82 L 510.35 99.8 L 513.36 100.77 L 516.36 101.73 L 519.37 102.69 L 522.37 103.65 L 525.38 104.59 L 528.38 105.54 L 531.39 106.48 L 534.4 107.41 L 537.4 108.33 L 540.41 109.25 L 543.41 110.15 L 546.42 111.05 L 549.42 111.94 L 552.43 112.83 L 555.43 113.7 L 558.44 114.56 L 561.45 115.41 L 564.45 116.26 L 567.46 117.09 L 570.46 117.91 L 573.47 118.72 L 576.47 119.52 L 579.48 120.31 L 582.49 121.09 L 585.49 121.85 L 588.5 122.61 L 591.5 123.35 L 594.51 124.08 L 597.51 124.8 L 600.52 125.51 L 603.53 126.2 L 606.53 126.88 L 609.54 127.55 L 612.54 128.21 L 615.55 128.86 L 618.55 129.49 L 621.56 130.11 L 624.57 130.72 L 627.57 131.32 L 630.58 131.91 L 633.58 132.48 L 636.59 133.05 L 639.59 133.6 L 642.6 134.14 L 645.61 134.66 L 648.61 135.18 L 651.62 135.68 L 654.62 136.18 L 657.63 136.66 L 660.63 137.13 L 663.64 137.59 L 666.64 138.04 L 669.65 138.48 L 672.66 138.91 L 675.66 139.33 L 678.67 139.74 L 681.67 140.14 L 684.68 140.53 L 687.68 140.91 L 690.69 141.28 L 693.7 141.64 L 696.7 142 L 699.71 142.34 L 702.71 142.67 L 705.72 143 L 708.72 143.32 L 711.73 143.63 L 714.74 143.93 L 717.74 144.22 L 720.75 144.51 L 723.75 144.79 L 726.76 145.06 L 729.76 145.32 L 732.77 145.58 L 735.77 145.83 L 738.78 146.07 L 741.79 146.31 L 744.79 146.54 L 747.8 146.76 L 750.8 146.98 L 753.81 147.19 L 756.81 147.4 L 759.82 147.6 L 762.83 147.79 L 765.83 147.98 L 768.84 148.16 L 771.84 148.34 L 774.85 148.52 L 777.85 148.68 L 780.86 148.85 L 783.87 149.01 L 786.87 149.16 L 789.88 149.31 L 792.88 149.46 L 795.89 149.6 L 798.89 149.74 L 801.9 149.87 L 804.91 150 L 807.91 150.12 L 810.92 150.25 L 813.92 150.36 L 816.93 150.48 L 819.93 150.59 L 822.94 150.7 L 825.95 150.8 L 828.95 150.91 L 831.96 151.01 L 834.96 151.1 L 837.97 151.19 L 840.97 151.29 L 843.98 151.37 L 846.98 151.46 L 849.99 151.54 L 853 151.62 L 856 151.7 L 859.01 151.77 L 862.01 151.85 L 865.02 151.92 L 868.02 151.99 L 871.03 152.05 L 874.04 152.12 L 877.04 152.18 L 880.05 152.24 L 883.05 152.3 L 886.06 152.36 L 889.06 152.41 L 892.07 152.47 L 895.08 152.52 L 898.08 152.57 L 901.09 152.62 L 904.09 152.67 L 907.1 152.71 L 910.1 152.76 L 913.11 152.8 L 916.12 152.84 L 919.12 152.89 L 922.13 152.92 L 925.13 152.96 L 928.14 153 L 931.14 153.04 L 934.15 153.07 L 937.15 153.11 L 940.16 153.14 L 943.17 153.17 L 946.17 153.2 L 949.18 153.23 L 952.18 153.26 L 955.19 153.29 L 958.19 153.32 L 961.2 153.34 L 961.2 35.35 L 961.2 35.35 L 958.19 35.35 L 955.19 35.35 L 952.18 35.35 L 949.18 35.35 L 946.17 35.35 L 943.17 35.35 L 940.16 35.35 L 937.15 35.35 L 934.15 35.35 L 931.14 35.35 L 928.14 35.35 L 925.13 35.35 L 922.13 35.35 L 919.12 35.35 L 916.12 35.35 L 913.11 35.35 L 910.1 35.35 L 907.1 35.35 L 904.09 35.35 L 901.09 35.35 L 898.08 35.35 L 895.08 35.35 L 892.07 35.35 L 889.06 35.35 L 886.06 35.35 L 883.05 35.35 L 880.05 35.35 L 877.04 35.35 L 874.04 35.35 L 871.03 35.35 L 868.02 35.35 L 865.02 35.35 L 862.01 35.35 L 859.01 35.35 L 856 35.35 L 853 35.35 L 849.99 35.35 L 846.98 35.35 L 843.98 35.35 L 840.97 35.35 L 837.97 35.35 L 834.96 35.35 L 831.96 35.35 L 828.95 35.35 L 825.95 35.35 L 822.94 35.35 L 819.93 35.35 L 816.93 35.35 L 813.92 35.35 L 810.92 35.35 L 807.91 35.35 L 804.91 35.35 L 801.9 35.35 L 798.89 35.35 L 795.89 35.35 L 792.88 35.35 L 789.88 35.35 L 786.87 35.35 L 783.87 35.35 L 780.86 35.35 L 777.85 35.35 L 774.85 35.35 L 771.84 35.35 L 768.84 35.35 L 765.83 35.35 L 762.83 35.35 L 759.82 35.35 L 756.81 35.35 L 753.81 35.35 L 750.8 35.35 L 747.8 35.35 L 744.79 35.35 L 741.79 35.35 L 738.78 35.35 L 735.77 35.35 L 732.77 35.35 L 729.76 35.35 L 726.76 35.35 L 723.75 35.35 L 720.75 35.35 L 717.74 35.35 L 714.74 35.35 L 711.73 35.35 L 708.72 35.35 L 705.72 35.35 L 702.71 35.35 L 699.71 35.35 L 696.7 35.35 L 693.7 35.35 L 690.69 35.35 L 687.68 35.35 L 684.68 35.35 L 681.67 35.35 L 678.67 35.35 L 675.66 35.35 L 672.66 35.35 L 669.65 35.35 L 666.64 35.35 L 663.64 35.35 L 660.63 35.35 L 657.63 35.35 L 654.62 35.35 L 651.62 35.35 L 648.61 35.35 L 645.61 35.35 L 642.6 35.35 L 639.59 35.35 L 636.59 35.35 L 633.58 35.35 L 630.58 35.35 L 627.57 35.35 L 624.57 35.35 L 621.56 35.35 L 618.55 35.35 L 615.55 35.35 L 612.54 35.35 L 609.54 35.35 L 606.53 35.35 L 603.53 35.35 L 600.52 35.35 L 597.51 35.35 L 594.51 35.35 L 591.5 35.35 L 588.5 35.35 L 585.49 35.35 L 582.49 35.35 L 579.48 35.35 L 576.47 35.35 L 573.47 35.35 L 570.46 35.35 L 567.46 35.35 L 564.45 35.35 L 561.45 35.35 L 558.44 35.35 L 555.43 35.35 L 552.43 35.35 L 549.42 35.35 L 546.42 35.35 L 543.41 35.35 L 540.41 35.35 L 537.4 35.35 L 534.4 35.35 L 531.39 35.35 L 528.38 35.35 L 525.38 35.35 L 522.37 35.35 L 519.37 35.35 L 516.36 35.35 L 513.36 35.35 L 510.35 35.35 L 507.34 35.35 L 504.34 35.35 L 501.33 35.35 L 498.33 35.35 L 495.32 35.35 L 492.32 35.35 L 489.31 35.35 L 486.3 35.35 L 483.3 35.35 L 480.29 35.35 L 477.29 35.35 L 474.28 35.35 L 471.28 35.35 L 468.27 35.35 L 465.26 35.35 L 462.26 35.35 L 459.25 35.35 L 456.25 35.35 L 453.24 35.35 L 450.24 35.35 L 447.23 35.35 L 444.23 35.35 L 441.22 35.35 L 438.21 35.35 L 435.21 35.35 L 432.2 35.35 L 429.2 35.35 L 426.19 35.35 L 423.19 35.35 L 420.18 35.35 L 417.17 35.35 L 414.17 35.35 L 411.16 35.35 L 408.16 35.35 L 405.15 35.35 L 402.15 35.35 L 399.14 35.35 L 396.13 35.35 L 393.13 35.35 L 390.12 35.35 L 387.12 35.35 L 384.11 35.35 L 381.11 35.35 L 378.1 35.35 L 375.1 35.35 L 372.09 35.35 L 369.08 35.35 L 366.08 35.35 L 363.07 35.35 L 360.07 35.35 L 357.06 35.35 L 354.06 35.35 L 351.05 35.35 L 348.04 35.35 L 345.04 35.35 L 342.03 35.35 L 339.03 35.35 L 336.02 35.35 L 333.02 35.35 L 330.01 35.35 L 327 35.35 L 324 35.35 L 320.99 35.35 L 317.99 35.35 L 314.98 35.35 L 311.98 35.35 L 308.97 35.35 L 305.96 35.35 L 302.96 35.35 L 299.95 35.35 L 296.95 35.35 L 293.94 35.35 L 290.94 35.35 L 287.93 35.35 L 284.93 35.35 L 281.92 35.35 L 278.91 35.35 L 275.91 35.35 L 272.9 35.35 L 269.9 35.35 L 266.89 35.35 L 263.89 35.35 L 260.88 35.35 L 257.87 35.35 L 254.87 35.35 L 251.86 35.35 L 248.86 35.35 L 245.85 35.35 L 242.85 35.35 L 239.84 35.35 L 236.83 35.35 L 233.83 35.35 L 230.82 35.35 L 227.82 35.35 L 224.81 35.35 L 221.81 35.35 L 218.8 35.35 L 215.79 35.35 L 212.79 35.35 L 209.78 35.35 L 206.78 35.35 L 203.77 35.35 L 200.77 35.35 L 197.76 35.35 L 194.75 35.35 L 191.75 35.35 L 188.74 35.35 L 185.74 35.35 L 182.73 35.35 L 179.73 35.35 L 176.72 35.35 L 173.72 35.35 L 170.71 35.35 L 167.7 35.35 L 164.7 35.35 L 161.69 35.35 L 158.69 35.35 L 155.68 35.35 L 152.68 35.35 L 149.67 35.35 L 146.66 35.35 L 143.66 35.35 L 140.65 35.35 L 137.65 35.35 L 134.64 35.35 L 131.64 35.35 L 128.63 35.35 L 125.62 35.35 L 122.62 35.35 L 119.61 35.35 L 116.61 35.35 L 113.6 35.35 L 110.6 35.35 L 107.59 35.35 L 104.58 35.35 L 101.58 35.35 L 98.57 35.35 L 95.57 35.35 L 92.56 35.35 L 89.56 35.35 L 86.55 35.35 L 83.55 35.35 L 80.54 35.35 L 77.53 35.35 L 74.53 35.35 L 71.52 35.35 L 68.52 35.35 L 65.51 35.35 L 62.51 35.35 L 59.5 35.35 z" clip-path="url(#p49906fe7d5)" style="fill: #d62728; fill-opacity: 0.6"/>
   </g>
   <g id="line2d_55">
    <path d="M 119.61 253.3 L 119.61 35.35" clip-path="url(#p49906fe7d5)" style="fill: none; stroke: #e20f12; stroke-width: 4.28; stroke-linecap: square"/>
   </g>
   <g id="line2d_56">
    <path d="M 59.5 162.1 L 961.2 162.1" clip-path="url(#p49906fe7d5)" style="fill: none; stroke: #9467bd; stroke-opacity: 0.9; stroke-width: 4.28; stroke-linecap: square"/>
   </g>
   <g id="patch_3">
    <path d="M 59.5 253.3 L 59.5 35.35" style="fill: none; stroke: #000000; stroke-width: 0.93; stroke-linejoin: miter; stroke-linecap: square"/>
   </g>
   <g id="patch_4">
    <path d="M 961.2 253.3 L 961.2 35.35" style="fill: none; stroke: #000000; stroke-width: 0.93; stroke-linejoin: miter; stroke-linecap: square"/>
   </g>
   <g id="patch_5">
    <path d="M 59.5 253.3 L 961.2 253.3" style="fill: none; stroke: #000000; stroke-width: 0.93; stroke-linejoin: miter; stroke-linecap: square"/>
   </g>
   <g id="patch_6">
    <path d="M 59.5 35.35 L 961.2 35.35" style="fill: none; stroke: #000000; stroke-width: 0.93; stroke-linejoin: miter; stroke-linecap: square"/>
   </g>
   <g id="text_17">
    <text style="font-size: 11.57px; text-anchor: start" x="164.2" y="231">Start of social distancing</text>
   </g>
   <g id="patch_7">
    <path d="M 196.1 235.8 Q 158.55 244.05 122.45 251.98" style="fill: none; opacity: 0.85; stroke: #000000; stroke-width: 1.33; stroke-linecap: round"/>
    <path d="M 126.97 253.12 L 122.45 251.98 L 126.07 249.05" style="fill: none; opacity: 0.85; stroke: #000000; stroke-width: 1.33; stroke-linecap: round"/>
   </g>
   <g id="text_18">
    <text style="font-size: 11.57px; text-anchor: start" x="720.25" y="206">Herd Immunity without social distancing</text>
   </g>
   <g id="patch_8">
    <path d="M 864 193.6 Q 911.3 178.25 957.19 163.36" style="fill: none; opacity: 0.85; stroke: #000000; stroke-width: 1.33; stroke-linecap: round"/>
    <path d="M 952.58 162.66 L 957.19 163.36 L 953.87 166.63" style="fill: none; opacity: 0.85; stroke: #000000; stroke-width: 1.33; stroke-linecap: round"/>
   </g>
   <g id="text_19">
    <text style="font-size: 13.92px; text-anchor: middle" x="509.65" y="28">Susceptible and Recovered Populations with  40% Effective Social Distancing</text>
   </g>
   <g id="legend_1">
    <g id="patch_9">
     <path d="M 780.11 113.58 L 953.1 113.58 Q 955.41 113.58 955.41 111.26 L 955.41 43.45 Q 955.41 41.13 953.1 41.13 L 780.11 41.13 Q 777.8 41.13 777.8 43.45 L 777.8 111.26 Q 777.8 113.58 780.11 113.58 z" style="fill: #ffffff; opacity: 0.8; stroke: #cccccc; stroke-width: 1.16; stroke-linejoin: miter"/>
    </g>
    <g id="patch_10">
     <path d="M 783.03 53.65 L 805.17 53.65 L 805.17 46.46 L 783.03 46.46 z" style="fill: #1f77b4; fill-opacity: 0.6"/>
    </g>
    <g id="text_20">
     <text style="font-size: 11.47px; text-anchor: start" x="815.82" y="54">Susceptible</text>
    </g>
    <g id="patch_11">
     <path d="M 783.03 70.98 L 805.17 70.98 L 805.17 63.79 L 783.03 63.79 z" style="fill: #ff7f0e; fill-opacity: 0.6"/>
    </g>
    <g id="text_21">
     <text style="font-size: 11.47px; text-anchor: start" x="815.82" y="71">Exposed/no symptoms</text>
    </g>
    <g id="patch_12">
     <path d="M 783.03 88.31 L 805.17 88.31 L 805.17 81.11 L 783.03 81.11 z" style="fill: #2ca02c; fill-opacity: 0.6"/>
    </g>
    <g id="text_22">
     <text style="font-size: 11.47px; text-anchor: start" x="815.82" y="88">Infectious/symptomatic</text>
    </g>
    <g id="patch_13">
     <path d="M 783.03 105.64 L 805.17 105.64 L 805.17 98.44 L 783.03 98.44 z" style="fill: #d62728; fill-opacity: 0.6"/>
    </g>
    <g id="text_23">
     <text style="font-size: 11.47px; text-anchor: start" x="815.82" y="106">Recovered</text>
    </g>
   </g>
  </g>
  <g id="axes_2">
   <g id="patch_14">
    <path d="M 59.5 538.4 L 961.2 538.4 L 961.2 320.6 L 59.5 320.6 z" style="fill: #ffffff"/>
   </g>
   <g id="matplotlib.axis_3">
    <g id="xtick_32">
     <g id="line2d_57">
      <path d="M 59.5 538.4 L 59.5 320.6" clip-path="url(#pf25580472c)" style="fill: none; stroke: #b0b0b0; stroke-width: 0.93; stroke-linecap: square"/>
     </g>
     <g id="line2d_58">
      <g>
       <use href="#m286226e05e" x="59.5" y="538.4" style="stroke: #000000; stroke-width: 0.93"/>
      </g>
     </g>
     <g id="text_24">
      <text style="font-size: 11.17px; text-anchor: middle" x="59.5" y="555">0</text>
     </g>
    </g>
    <g id="xtick_33">
     <g id="line2d_59">
      <path d="M 209.78 538.4 L 209.78 320.6" clip-path="url(#pf25580472c)" style="fill: none; stroke: #b0b0b0; stroke-width: 0.93; stroke-linecap: square"/>
     </g>
     <g id="line2d_60">
      <g>
       <use href="#m286226e05e" x="209.78" y="538.4" style="stroke: #000000; stroke-width: 0.93"/>
      </g>
     </g>
     <g id="text_25">
      <text style="font-size: 11.17px; text-anchor: middle" x="209.78" y="555">5</text>
     </g>
    </g>
    <g id="xtick_34">
     <g id="line2d_61">
      <path d="M 360.07 538.4 L 360.07 320.6" clip-path="url(#pf25580472c)" style="fill: none; stroke: #b0b0b0; stroke-width: 0.93; stroke-linecap: square"/>
     </g>
     <g id="line2d_62">
      <g>
       <use href="#m286226e05e" x="360.07" y="538.4" style="stroke: #000000; stroke-width: 0.93"/>
      </g>
     </g>
     <g id="text_26">
      <text style="font-size: 11.17px; text-anchor: middle" x="360.07" y="555">10</text>
     </g>
    </g>
    <g id="xtick_35">
     <g id="line2d_63">
      <path d="M 510.35 538.4 L 510.35 320.6" clip-path="url(#pf25580472c)" style="fill: none; stroke: #b0b0b0; stroke-width: 0.93; stroke-linecap: square"/>
     </g>
     <g id="line2d_64">
      <g>
       <use href="#m286226e05e" x="510.35" y="538.4" style="stroke: #000000; stroke-width: 0.93"/>
      </g>
     </g>
     <g id="text_27">
      <text style="font-size: 11.17px; text-anchor: middle" x="510.35" y="555">15</text>
     </g>
    </g>
    <g id="xtick_36">
     <g id="line2d_65">
      <path d="M 660.63 538.4 L 660.63 320.6" clip-path="url(#pf25580472c)" style="fill: none; stroke: #b0b0b0; stroke-width: 0.93; stroke-linecap: square"/>
     </g>
     <g id="line2d_66">
      <g>
       <use href="#m286226e05e" x="660.63" y="538.4" style="stroke: #000000; stroke-width: 0.93"/>
      </g>
     </g>
     <g id="text_28">
      <text style="font-size: 11.17px; text-anchor: middle" x="660.63" y="555">20</text>
     </g>
    </g>
    <g id="xtick_37">
     <g id="line2d_67">
      <path d="M 810.92 538.4 L 810.92 320.6" clip-path="url(#pf25580472c)" style="fill: none; stroke: #b0b0b0; stroke-width: 0.93; stroke-linecap: square"/>
     </g>
     <g id="line2d_68">
      <g>
       <use href="#m286226e05e" x="810.92" y="538.4" style="stroke: #000000; stroke-width: 0.93"/>
      </g>
     </g>
     <g id="text_29">
      <text style="font-size: 11.17px; text-anchor: middle" x="810.92" y="555">25</text>
     </g>
    </g>
    <g id="xtick_38">
     <g id="line2d_69">
      <path d="M 961.2 538.4 L 961.2 320.6" clip-path="url(#pf25580472c)" style="fill: none; stroke: #b0b0b0; stroke-width: 0.93; stroke-linecap: square"/>
     </g>
     <g id="line2d_70">
      <g>
       <use href="#m286226e05e" x="961.2" y="538.4" style="stroke: #000000; stroke-width: 0.93"/>
      </g>
     </g>
     <g id="text_30">
      <text style="font-size: 11.17px; text-anchor: middle" x="961.2" y="555">30</text>
     </g>
    </g>
    <g id="xtick_39">
     <g id="line2d_71">
      <g>
       <use href="#m2da5305376" x="89.56" y="538.4" style="stroke: #000000; stroke-width: 0.69"/>
      </g>
     </g>
    </g>
    <g id="xtick_40">
     <g id="line2d_72">
      <g>
       <use href="#m2da5305376" x="119.61" y="538.4" style="stroke: #000000; stroke-width: 0.69"/>
      </g>
     </g>
    </g>
    <g id="xtick_41">
     <g id="line2d_73">
      <g>
       <use href="#m2da5305376" x="149.67" y="538.4" style="stroke: #000000; stroke-width: 0.69"/>
      </g>
     </g>
    </g>
    <g id="xtick_42">
     <g id="line2d_74">
      <g>
       <use href="#m2da5305376" x="179.73" y="538.4" style="stroke: #000000; stroke-width: 0.69"/>
      </g>
     </g>
    </g>
    <g id="xtick_43">
     <g id="line2d_75">
      <g>
       <use href="#m2da5305376" x="239.84" y="538.4" style="stroke: #000000; stroke-width: 0.69"/>
      </g>
     </g>
    </g>
    <g id="xtick_44">
     <g id="line2d_76">
      <g>
       <use href="#m2da5305376" x="269.9" y="538.4" style="stroke: #000000; stroke-width: 0.69"/>
      </g>
     </g>
    </g>
    <g id="xtick_45">
     <g id="line2d_77">
      <g>
       <use href="#m2da5305376" x="299.95" y="538.4" style="stroke: #000000; stroke-width: 0.69"/>
      </g>
     </g>
    </g>
    <g id="xtick_46">
     <g id="line2d_78">
      <g>
       <use href="#m2da5305376" x="330.01" y="538.4" style="stroke: #000000; stroke-width: 0.69"/>
      </g>
     </g>
    </g>
    <g id="xtick_47">
     <g id="line2d_79">
      <g>
       <use href="#m2da5305376" x="390.12" y="538.4" style="stroke: #000000; stroke-width: 0.69"/>
      </g>
     </g>
    </g>
    <g id="xtick_48">
     <g id="line2d_80">
      <g>
       <use href="#m2da5305376" x="420.18" y="538.4" style="stroke: #000000; stroke-width: 0.69"/>
      </g>
     </g>
    </g>
    <g id="xtick_49">
     <g id="line2d_81">
      <g>
       <use href="#m2da5305376" x="450.24" y="538.4" style="stroke: #000000; stroke-width: 0.69"/>
      </g>
     </g>
    </g>
    <g id="xtick_50">
     <g id="line2d_82">
      <g>
       <use href="#m2da5305376" x="480.29" y="538.4" style="stroke: #000000; stroke-width: 0.69"/>
      </g>
     </g>
    </g>
    <g id="xtick_51">
     <g id="line2d_83">
      <g>
       <use href="#m2da5305376" x="540.41" y="538.4" style="stroke: #000000; stroke-width: 0.69"/>
      </g>
     </g>
    </g>
    <g id="xtick_52">
     <g id="line2d_84">
      <g>
       <use href="#m2da5305376" x="570.46" y="538.4" style="stroke: #000000; stroke-width: 0.69"/>
      </g>
     </g>
    </g>
    <g id="xtick_53">
     <g id="line2d_85">
      <g>
       <use href="#m2da5305376" x="600.52" y="538.4" style="stroke: #000000; stroke-width: 0.69"/>
      </g>
     </g>
    </g>
    <g id="xtick_54">
     <g id="line2d_86">
      <g>
       <use href="#m2da5305376" x="630.58" y="538.4" style="stroke: #000000; stroke-width: 0.69"/>
      </g>
     </g>
    </g>
    <g id="xtick_55">
     <g id="line2d_87">
      <g>
       <use href="#m2da5305376" x="690.69" y="538.4" style="stroke: #000000; stroke-width: 0.69"/>
      </g>
     </g>
    </g>
    <g id="xtick_56">
     <g id="line2d_88">
      <g>
       <use href="#m2da5305376" x="720.75" y="538.4" style="stroke: #000000; stroke-width: 0.69"/>
      </g>
     </g>
    </g>
    <g id="xtick_57">
     <g id="line2d_89">
      <g>
       <use href="#m2da5305376" x="750.8" y="538.4" style="stroke: #000000; stroke-width: 0.69"/>
      </g>
     </g>
    </g>
    <g id="xtick_58">
     <g id="line2d_90">
      <g>
       <use href="#m2da5305376" x="780.86" y="538.4" style="stroke: #000000; stroke-width: 0.69"/>
      </g>
     </g>
    </g>
    <g id="xtick_59">
     <g id="line2d_91">
      <g>
       <use href="#m2da5305376" x="840.97" y="538.4" style="stroke: #000000; stroke-width: 0.69"/>
      </g>
     </g>
    </g>
    <g id="xtick_60">
     <g id="line2d_92">
      <g>
       <use href="#m2da5305376" x="871.03" y="538.4" style="stroke: #000000; stroke-width: 0.69"/>
      </g>
     </g>
    </g>
    <g id="xtick_61">
     <g id="line2d_93">
      <g>
       <use href="#m2da5305376" x="901.09" y="538.4" style="stroke: #000000; stroke-width: 0.69"/>
      </g>
     </g>
    </g>
    <g id="xtick_62">
     <g id="line2d_94">
      <g>
       <use href="#m2da5305376" x="931.14" y="538.4" style="stroke: #000000; stroke-width: 0.69"/>
      </g>
     </g>
    </g>
    <g id="text_31">
     <text style="font-size: 11.57px; text-anchor: middle" x="510.35" y="571">Weeks following Initial Campus Exposure</text>
    </g>
   </g>
   <g id="matplotlib.axis_4">
    <g id="ytick_9">
     <g id="line2d_95">
      <path d="M 59.5 538.4 L 961.2 538.4" clip-path="url(#pf25580472c)" style="fill: none; stroke: #b0b0b0; stroke-width: 0.93; stroke-linecap: square"/>
     </g>
     <g id="line2d_96">
      <g>
       <use href="#mc2c6d20268" x="59.5" y="538.4" style="stroke: #000000; stroke-width: 0.93"/>
      </g>
     </g>
     <g id="text_32">
      <text style="font-size: 11.17px; text-anchor: end" x="50.13" y="542">0</text>
     </g>
    </g>
    <g id="ytick_10">
     <g id="line2d_97">
      <path d="M 59.5 512.47 L 961.2 512.47" clip-path="url(#pf25580472c)" style="fill: none; stroke: #b0b0b0; stroke-width: 0.93; stroke-linecap: square"/>
     </g>
     <g id="line2d_98">
      <g>
       <use href="#mc2c6d20268" x="59.5" y="512.47" style="stroke: #000000; stroke-width: 0.93"/>
      </g>
     </g>
     <g id="text_33">
      <text style="font-size: 11.17px; text-anchor: end" x="50.13" y="516">500</text>
     </g>
    </g>
    <g id="ytick_11">
     <g id="line2d_99">
      <path d="M 59.5 486.54 L 961.2 486.54" clip-path="url(#pf25580472c)" style="fill: none; stroke: #b0b0b0; stroke-width: 0.93; stroke-linecap: square"/>
     </g>
     <g id="line2d_100">
      <g>
       <use href="#mc2c6d20268" x="59.5" y="486.54" style="stroke: #000000; stroke-width: 0.93"/>
      </g>
     </g>
     <g id="text_34">
      <text style="font-size: 11.17px; text-anchor: end" x="50.13" y="490">1000</text>
     </g>
    </g>
    <g id="ytick_12">
     <g id="line2d_101">
      <path d="M 59.5 460.61 L 961.2 460.61" clip-path="url(#pf25580472c)" style="fill: none; stroke: #b0b0b0; stroke-width: 0.93; stroke-linecap: square"/>
     </g>
     <g id="line2d_102">
      <g>
       <use href="#mc2c6d20268" x="59.5" y="460.61" style="stroke: #000000; stroke-width: 0.93"/>
      </g>
     </g>
     <g id="text_35">
      <text style="font-size: 11.17px; text-anchor: end" x="50.13" y="464">1500</text>
     </g>
    </g>
    <g id="ytick_13">
     <g id="line2d_103">
      <path d="M 59.5 434.69 L 961.2 434.69" clip-path="url(#pf25580472c)" style="fill: none; stroke: #b0b0b0; stroke-width: 0.93; stroke-linecap: square"/>
     </g>
     <g id="line2d_104">
      <g>
       <use href="#mc2c6d20268" x="59.5" y="434.69" style="stroke: #000000; stroke-width: 0.93"/>
      </g>
     </g>
     <g id="text_36">
      <text style="font-size: 11.17px; text-anchor: end" x="50.13" y="438">2000</text>
     </g>
    </g>
    <g id="ytick_14">
     <g id="line2d_105">
      <path d="M 59.5 408.76 L 961.2 408.76" clip-path="url(#pf25580472c)" style="fill: none; stroke: #b0b0b0; stroke-width: 0.93; stroke-linecap: square"/>
     </g>
     <g id="line2d_106">
      <g>
       <use href="#mc2c6d20268" x="59.5" y="408.76" style="stroke: #000000; stroke-width: 0.93"/>
      </g>
     </g>
     <g id="text_37">
      <text style="font-size: 11.17px; text-anchor: end" x="50.13" y="412">2500</text>
     </g>
    </g>
    <g id="ytick_15">
     <g id="line2d_107">
      <path d="M 59.5 382.83 L 961.2 382.83" clip-path="url(#pf25580472c)" style="fill: none; stroke: #b0b0b0; stroke-width: 0.93; stroke-linecap: square"/>
     </g>
     <g id="line2d_108">
      <g>
       <use href="#mc2c6d20268" x="59.5" y="382.83" style="stroke: #000000; stroke-width: 0.93"/>
      </g>
     </g>
     <g id="text_38">
      <text style="font-size: 11.17px; text-anchor: end" x="50.13" y="386">3000</text>
     </g>
    </g>
    <g id="ytick_16">
     <g id="line2d_109">
      <path d="M 59.5 356.9 L 961.2 356.9" clip-path="url(#pf25580472c)" style="fill: none; stroke: #b0b0b0; stroke-width: 0.93; stroke-linecap: square"/>
     </g>
     <g id="line2d_110">
      <g>
       <use href="#mc2c6d20268" x="59.5" y="356.9" style="stroke: #000000; stroke-width: 0.93"/>
      </g>
     </g>
     <g id="text_39">
      <text style="font-size: 11.17px; text-anchor: end" x="50.13" y="361">3500</text>
     </g>
    </g>
    <g id="ytick_17">
     <g id="line2d_111">
      <path d="M 59.5 330.97 L 961.2 330.97" clip-path="url(#pf25580472c)" style="fill: none; stroke: #b0b0b0; stroke-width: 0.93; stroke-linecap: square"/>
     </g>
     <g id="line2d_112">
      <g>
       <use href="#mc2c6d20268" x="59.5" y="330.97" style="stroke: #000000; stroke-width: 0.93"/>
      </g>
     </g>
     <g id="text_40">
      <text style="font-size: 11.17px; text-anchor: end" x="50.13" y="335">4000</text>
     </g>
    </g>
   </g>
   <g id="FillBetweenPolyCollection_5">
    <path d="M 59.5 538.4 L 59.5 538.4 L 62.51 538.4 L 65.51 538.4 L 68.52 538.4 L 71.52 538.4 L 74.53 538.4 L 77.53 538.4 L 80.54 538.4 L 83.55 538.4 L 86.55 538.4 L 89.56 538.4 L 92.56 538.4 L 95.57 538.4 L 98.57 538.4 L 101.58 538.4 L 104.58 538.4 L 107.59 538.4 L 110.6 538.4 L 113.6 538.4 L 116.61 538.4 L 119.61 538.4 L 122.62 538.4 L 125.62 538.4 L 128.63 538.4 L 131.64 538.4 L 134.64 538.4 L 137.65 538.4 L 140.65 538.4 L 143.66 538.4 L 146.66 538.4 L 149.67 538.4 L 152.68 538.4 L 155.68 538.4 L 158.69 538.4 L 161.69 538.4 L 164.7 538.4 L 167.7 538.4 L 170.71 538.4 L 173.72 538.4 L 176.72 538.4 L 179.73 538.4 L 182.73 538.4 L 185.74 538.4 L 188.74 538.4 L 191.75 538.4 L 194.75 538.4 L 197.76 538.4 L 200.77 538.4 L 203.77 538.4 L 206.78 538.4 L 209.78 538.4 L 212.79 538.4 L 215.79 538.4 L 218.8 538.4 L 221.81 538.4 L 224.81 538.4 L 227.82 538.4 L 230.82 538.4 L 233.83 538.4 L 236.83 538.4 L 239.84 538.4 L 242.85 538.4 L 245.85 538.4 L 248.86 538.4 L 251.86 538.4 L 254.87 538.4 L 257.87 538.4 L 260.88 538.4 L 263.89 538.4 L 266.89 538.4 L 269.9 538.4 L 272.9 538.4 L 275.91 538.4 L 278.91 538.4 L 281.92 538.4 L 284.93 538.4 L 287.93 538.4 L 290.94 538.4 L 293.94 538.4 L 296.95 538.4 L 299.95 538.4 L 302.96 538.4 L 305.96 538.4 L 308.97 538.4 L 311.98 538.4 L 314.98 538.4 L 317.99 538.4 L 320.99 538.4 L 324 538.4 L 327 538.4 L 330.01 538.4 L 333.02 538.4 L 336.02 538.4 L 339.03 538.4 L 342.03 538.4 L 345.04 538.4 L 348.04 538.4 L 351.05 538.4 L 354.06 538.4 L 357.06 538.4 L 360.07 538.4 L 363.07 538.4 L 366.08 538.4 L 369.08 538.4 L 372.09 538.4 L 375.1 538.4 L 378.1 538.4 L 381.11 538.4 L 384.11 538.4 L 387.12 538.4 L 390.12 538.4 L 393.13 538.4 L 396.13 538.4 L 399.14 538.4 L 402.15 538.4 L 405.15 538.4 L 408.16 538.4 L 411.16 538.4 L 414.17 538.4 L 417.17 538.4 L 420.18 538.4 L 423.19 538.4 L 426.19 538.4 L 429.2 538.4 L 432.2 538.4 L 435.21 538.4 L 438.21 538.4 L 441.22 538.4 L 444.23 538.4 L 447.23 538.4 L 450.24 538.4 L 453.24 538.4 L 456.25 538.4 L 459.25 538.4 L 462.26 538.4 L 465.26 538.4 L 468.27 538.4 L 471.28 538.4 L 474.28 538.4 L 477.29 538.4 L 480.29 538.4 L 483.3 538.4 L 486.3 538.4 L 489.31 538.4 L 492.32 538.4 L 495.32 538.4 L 498.33 538.4 L 501.33 538.4 L 504.34 538.4 L 507.34 538.4 L 510.35 538.4 L 513.36 538.4 L 516.36 538.4 L 519.37 538.4 L 522.37 538.4 L 525.38 538.4 L 528.38 538.4 L 531.39 538.4 L 534.4 538.4 L 537.4 538.4 L 540.41 538.4 L 543.41 538.4 L 546.42 538.4 L 549.42 538.4 L 552.43 538.4 L 555.43 538.4 L 558.44 538.4 L 561.45 538.4 L 564.45 538.4 L 567.46 538.4 L 570.46 538.4 L 573.47 538.4 L 576.47 538.4 L 579.48 538.4 L 582.49 538.4 L 585.49 538.4 L 588.5 538.4 L 591.5 538.4 L 594.51 538.4 L 597.51 538.4 L 600.52 538.4 L 603.53 538.4 L 606.53 538.4 L 609.54 538.4 L 612.54 538.4 L 615.55 538.4 L 618.55 538.4 L 621.56 538.4 L 624.57 538.4 L 627.57 538.4 L 630.58 538.4 L 633.58 538.4 L 636.59 538.4 L 639.59 538.4 L 642.6 538.4 L 645.61 538.4 L 648.61 538.4 L 651.62 538.4 L 654.62 538.4 L 657.63 538.4 L 660.63 538.4 L 663.64 538.4 L 666.64 538.4 L 669.65 538.4 L 672.66 538.4 L 675.66 538.4 L 678.67 538.4 L 681.67 538.4 L 684.68 538.4 L 687.68 538.4 L 690.69 538.4 L 693.7 538.4 L 696.7 538.4 L 699.71 538.4 L 702.71 538.4 L 705.72 538.4 L 708.72 538.4 L 711.73 538.4 L 714.74 538.4 L 717.74 538.4 L 720.75 538.4 L 723.75 538.4 L 726.76 538.4 L 729.76 538.4 L 732.77 538.4 L 735.77 538.4 L 738.78 538.4 L 741.79 538.4 L 744.79 538.4 L 747.8 538.4 L 750.8 538.4 L 753.81 538.4 L 756.81 538.4 L 759.82 538.4 L 762.83 538.4 L 765.83 538.4 L 768.84 538.4 L 771.84 538.4 L 774.85 538.4 L 777.85 538.4 L 780.86 538.4 L 783.87 538.4 L 786.87 538.4 L 789.88 538.4 L 792.88 538.4 L 795.89 538.4 L 798.89 538.4 L 801.9 538.4 L 804.91 538.4 L 807.91 538.4 L 810.92 538.4 L 813.92 538.4 L 816.93 538.4 L 819.93 538.4 L 822.94 538.4 L 825.95 538.4 L 828.95 538.4 L 831.96 538.4 L 834.96 538.4 L 837.97 538.4 L 840.97 538.4 L 843.98 538.4 L 846.98 538.4 L 849.99 538.4 L 853 538.4 L 856 538.4 L 859.01 538.4 L 862.01 538.4 L 865.02 538.4 L 868.02 538.4 L 871.03 538.4 L 874.04 538.4 L 877.04 538.4 L 880.05 538.4 L 883.05 538.4 L 886.06 538.4 L 889.06 538.4 L 892.07 538.4 L 895.08 538.4 L 898.08 538.4 L 901.09 538.4 L 904.09 538.4 L 907.1 538.4 L 910.1 538.4 L 913.11 538.4 L 916.12 538.4 L 919.12 538.4 L 922.13 538.4 L 925.13 538.4 L 928.14 538.4 L 931.14 538.4 L 934.15 538.4 L 937.15 538.4 L 940.16 538.4 L 943.17 538.4 L 946.17 538.4 L 949.18 538.4 L 952.18 538.4 L 955.19 538.4 L 958.19 538.4 L 961.2 538.4 L 961.2 538.4 L 961.2 538.4 L 958.19 538.4 L 955.19 538.4 L 952.18 538.4 L 949.18 538.4 L 946.17 538.4 L 943.17 538.4 L 940.16 538.4 L 937.15 538.4 L 934.15 538.4 L 931.14 538.4 L 928.14 538.4 L 925.13 538.4 L 922.13 538.4 L 919.12 538.4 L 916.12 538.4 L 913.11 538.4 L 910.1 538.4 L 907.1 538.4 L 904.09 538.4 L 901.09 538.4 L 898.08 538.4 L 895.08 538.4 L 892.07 538.4 L 889.06 538.4 L 886.06 538.4 L 883.05 538.4 L 880.05 538.4 L 877.04 538.4 L 874.04 538.4 L 871.03 538.4 L 868.02 538.4 L 865.02 538.4 L 862.01 538.4 L 859.01 538.4 L 856 538.4 L 853 538.4 L 849.99 538.4 L 846.98 538.4 L 843.98 538.4 L 840.97 538.4 L 837.97 538.4 L 834.96 538.4 L 831.96 538.4 L 828.95 538.4 L 825.95 538.4 L 822.94 538.4 L 819.93 538.4 L 816.93 538.4 L 813.92 538.4 L 810.92 538.4 L 807.91 538.4 L 804.91 538.4 L 801.9 538.4 L 798.89 538.4 L 795.89 538.4 L 792.88 538.4 L 789.88 538.4 L 786.87 538.4 L 783.87 538.4 L 780.86 538.4 L 777.85 538.4 L 774.85 538.4 L 771.84 538.4 L 768.84 538.4 L 765.83 538.4 L 762.83 538.4 L 759.82 538.4 L 756.81 538.4 L 753.81 538.4 L 750.8 538.4 L 747.8 538.4 L 744.79 538.4 L 741.79 538.4 L 738.78 538.4 L 735.77 538.39 L 732.77 538.39 L 729.76 538.39 L 726.76 538.39 L 723.75 538.39 L 720.75 538.39 L 717.74 538.39 L 714.74 538.39 L 711.73 538.39 L 708.72 538.39 L 705.72 538.39 L 702.71 538.39 L 699.71 538.39 L 696.7 538.39 L 693.7 538.38 L 690.69 538.38 L 687.68 538.38 L 684.68 538.38 L 681.67 538.38 L 678.67 538.38 L 675.66 538.38 L 672.66 538.37 L 669.65 538.37 L 666.64 538.37 L 663.64 538.37 L 660.63 538.36 L 657.63 538.36 L 654.62 538.36 L 651.62 538.36 L 648.61 538.35 L 645.61 538.35 L 642.6 538.34 L 639.59 538.34 L 636.59 538.34 L 633.58 538.33 L 630.58 538.32 L 627.57 538.32 L 624.57 538.31 L 621.56 538.31 L 618.55 538.3 L 615.55 538.29 L 612.54 538.28 L 609.54 538.27 L 606.53 538.26 L 603.53 538.25 L 600.52 538.24 L 597.51 538.23 L 594.51 538.21 L 591.5 538.2 L 588.5 538.18 L 585.49 538.17 L 582.49 538.15 L 579.48 538.13 L 576.47 538.11 L 573.47 538.09 L 570.46 538.06 L 567.46 538.04 L 564.45 538.01 L 561.45 537.98 L 558.44 537.94 L 555.43 537.91 L 552.43 537.87 L 549.42 537.83 L 546.42 537.78 L 543.41 537.74 L 540.41 537.68 L 537.4 537.63 L 534.4 537.57 L 531.39 537.5 L 528.38 537.43 L 525.38 537.36 L 522.37 537.28 L 519.37 537.19 L 516.36 537.1 L 513.36 537 L 510.35 536.89 L 507.34 536.77 L 504.34 536.65 L 501.33 536.51 L 498.33 536.37 L 495.32 536.21 L 492.32 536.04 L 489.31 535.86 L 486.3 535.67 L 483.3 535.46 L 480.29 535.24 L 477.29 535 L 474.28 534.74 L 471.28 534.46 L 468.27 534.17 L 465.26 533.85 L 462.26 533.51 L 459.25 533.14 L 456.25 532.75 L 453.24 532.33 L 450.24 531.88 L 447.23 531.4 L 444.23 530.89 L 441.22 530.34 L 438.21 529.76 L 435.21 529.14 L 432.2 528.47 L 429.2 527.77 L 426.19 527.02 L 423.19 526.22 L 420.18 525.37 L 417.17 524.48 L 414.17 523.53 L 411.16 522.52 L 408.16 521.46 L 405.15 520.35 L 402.15 519.17 L 399.14 517.94 L 396.13 516.65 L 393.13 515.3 L 390.12 513.88 L 387.12 512.42 L 384.11 510.89 L 381.11 509.31 L 378.1 507.68 L 375.1 506.01 L 372.09 504.29 L 369.08 502.54 L 366.08 500.75 L 363.07 498.95 L 360.07 497.13 L 357.06 495.31 L 354.06 493.5 L 351.05 491.71 L 348.04 489.95 L 345.04 488.24 L 342.03 486.59 L 339.03 485.02 L 336.02 483.55 L 333.02 482.18 L 330.01 480.93 L 327 479.83 L 324 478.88 L 320.99 478.09 L 317.99 477.49 L 314.98 477.07 L 311.98 476.85 L 308.97 476.84 L 305.96 477.02 L 302.96 477.42 L 299.95 478.01 L 296.95 478.81 L 293.94 479.8 L 290.94 480.96 L 287.93 482.3 L 284.93 483.79 L 281.92 485.41 L 278.91 487.15 L 275.91 489 L 272.9 490.93 L 269.9 492.92 L 266.89 494.96 L 263.89 497.02 L 260.88 499.1 L 257.87 501.16 L 254.87 503.21 L 251.86 505.23 L 248.86 507.2 L 245.85 509.12 L 242.85 510.98 L 239.84 512.77 L 236.83 514.49 L 233.83 516.13 L 230.82 517.69 L 227.82 519.17 L 224.81 520.57 L 221.81 521.89 L 218.8 523.13 L 215.79 524.29 L 212.79 525.38 L 209.78 526.4 L 206.78 527.35 L 203.77 528.23 L 200.77 529.05 L 197.76 529.8 L 194.75 530.51 L 191.75 531.15 L 188.74 531.75 L 185.74 532.31 L 182.73 532.82 L 179.73 533.29 L 176.72 533.72 L 173.72 534.11 L 170.71 534.48 L 167.7 534.81 L 164.7 535.12 L 161.69 535.4 L 158.69 535.66 L 155.68 535.89 L 152.68 536.11 L 149.67 536.31 L 146.66 536.49 L 143.66 536.66 L 140.65 536.81 L 137.65 536.95 L 134.64 537.07 L 131.64 537.19 L 128.63 537.29 L 125.62 537.39 L 122.62 537.48 L 119.61 537.56 L 116.61 537.63 L 113.6 537.7 L 110.6 537.76 L 107.59 537.82 L 104.58 537.87 L 101.58 537.92 L 98.57 537.96 L 95.57 538 L 92.56 538.03 L 89.56 538.07 L 86.55 538.1 L 83.55 538.13 L 80.54 538.15 L 77.53 538.18 L 74.53 538.2 L 71.52 538.23 L 68.52 538.26 L 65.51 538.29 L 62.51 538.34 L 59.5 538.4 z" clip-path="url(#pf25580472c)" style="fill: #2ca02c; fill-opacity: 0.5"/>
   </g>
   <g id="FillBetweenPolyCollection_6">
    <path d="M 59.5 537.88 L 59.5 538.4 L 62.51 538.34 L 65.51 538.29 L 68.52 538.26 L 71.52 538.23 L 74.53 538.2 L 77.53 538.18 L 80.54 538.15 L 83.55 538.13 L 86.55 538.1 L 89.56 538.07 L 92.56 538.03 L 95.57 538 L 98.57 537.96 L 101.58 537.92 L 104.58 537.87 L 107.59 537.82 L 110.6 537.76 L 113.6 537.7 L 116.61 537.63 L 119.61 537.56 L 122.62 537.48 L 125.62 537.39 L 128.63 537.29 L 131.64 537.19 L 134.64 537.07 L 137.65 536.95 L 140.65 536.81 L 143.66 536.66 L 146.66 536.49 L 149.67 536.31 L 152.68 536.11 L 155.68 535.89 L 158.69 535.66 L 161.69 535.4 L 164.7 535.12 L 167.7 534.81 L 170.71 534.48 L 173.72 534.11 L 176.72 533.72 L 179.73 533.29 L 182.73 532.82 L 185.74 532.31 L 188.74 531.75 L 191.75 531.15 L 194.75 530.51 L 197.76 529.8 L 200.77 529.05 L 203.77 528.23 L 206.78 527.35 L 209.78 526.4 L 212.79 525.38 L 215.79 524.29 L 218.8 523.13 L 221.81 521.89 L 224.81 520.57 L 227.82 519.17 L 230.82 517.69 L 233.83 516.13 L 236.83 514.49 L 239.84 512.77 L 242.85 510.98 L 245.85 509.12 L 248.86 507.2 L 251.86 505.23 L 254.87 503.21 L 257.87 501.16 L 260.88 499.1 L 263.89 497.02 L 266.89 494.96 L 269.9 492.92 L 272.9 490.93 L 275.91 489 L 278.91 487.15 L 281.92 485.41 L 284.93 483.79 L 287.93 482.3 L 290.94 480.96 L 293.94 479.8 L 296.95 478.81 L 299.95 478.01 L 302.96 477.42 L 305.96 477.02 L 308.97 476.84 L 311.98 476.85 L 314.98 477.07 L 317.99 477.49 L 320.99 478.09 L 324 478.88 L 327 479.83 L 330.01 480.93 L 333.02 482.18 L 336.02 483.55 L 339.03 485.02 L 342.03 486.59 L 345.04 488.24 L 348.04 489.95 L 351.05 491.71 L 354.06 493.5 L 357.06 495.31 L 360.07 497.13 L 363.07 498.95 L 366.08 500.75 L 369.08 502.54 L 372.09 504.29 L 375.1 506.01 L 378.1 507.68 L 381.11 509.31 L 384.11 510.89 L 387.12 512.42 L 390.12 513.88 L 393.13 515.3 L 396.13 516.65 L 399.14 517.94 L 402.15 519.17 L 405.15 520.35 L 408.16 521.46 L 411.16 522.52 L 414.17 523.53 L 417.17 524.48 L 420.18 525.37 L 423.19 526.22 L 426.19 527.02 L 429.2 527.77 L 432.2 528.47 L 435.21 529.14 L 438.21 529.76 L 441.22 530.34 L 444.23 530.89 L 447.23 531.4 L 450.24 531.88 L 453.24 532.33 L 456.25 532.75 L 459.25 533.14 L 462.26 533.51 L 465.26 533.85 L 468.27 534.17 L 471.28 534.46 L 474.28 534.74 L 477.29 535 L 480.29 535.24 L 483.3 535.46 L 486.3 535.67 L 489.31 535.86 L 492.32 536.04 L 495.32 536.21 L 498.33 536.37 L 501.33 536.51 L 504.34 536.65 L 507.34 536.77 L 510.35 536.89 L 513.36 537 L 516.36 537.1 L 519.37 537.19 L 522.37 537.28 L 525.38 537.36 L 528.38 537.43 L 531.39 537.5 L 534.4 537.57 L 537.4 537.63 L 540.41 537.68 L 543.41 537.74 L 546.42 537.78 L 549.42 537.83 L 552.43 537.87 L 555.43 537.91 L 558.44 537.94 L 561.45 537.98 L 564.45 538.01 L 567.46 538.04 L 570.46 538.06 L 573.47 538.09 L 576.47 538.11 L 579.48 538.13 L 582.49 538.15 L 585.49 538.17 L 588.5 538.18 L 591.5 538.2 L 594.51 538.21 L 597.51 538.23 L 600.52 538.24 L 603.53 538.25 L 606.53 538.26 L 609.54 538.27 L 612.54 538.28 L 615.55 538.29 L 618.55 538.3 L 621.56 538.31 L 624.57 538.31 L 627.57 538.32 L 630.58 538.32 L 633.58 538.33 L 636.59 538.34 L 639.59 538.34 L 642.6 538.34 L 645.61 538.35 L 648.61 538.35 L 651.62 538.36 L 654.62 538.36 L 657.63 538.36 L 660.63 538.36 L 663.64 538.37 L 666.64 538.37 L 669.65 538.37 L 672.66 538.37 L 675.66 538.38 L 678.67 538.38 L 681.67 538.38 L 684.68 538.38 L 687.68 538.38 L 690.69 538.38 L 693.7 538.38 L 696.7 538.39 L 699.71 538.39 L 702.71 538.39 L 705.72 538.39 L 708.72 538.39 L 711.73 538.39 L 714.74 538.39 L 717.74 538.39 L 720.75 538.39 L 723.75 538.39 L 726.76 538.39 L 729.76 538.39 L 732.77 538.39 L 735.77 538.39 L 738.78 538.4 L 741.79 538.4 L 744.79 538.4 L 747.8 538.4 L 750.8 538.4 L 753.81 538.4 L 756.81 538.4 L 759.82 538.4 L 762.83 538.4 L 765.83 538.4 L 768.84 538.4 L 771.84 538.4 L 774.85 538.4 L 777.85 538.4 L 780.86 538.4 L 783.87 538.4 L 786.87 538.4 L 789.88 538.4 L 792.88 538.4 L 795.89 538.4 L 798.89 538.4 L 801.9 538.4 L 804.91 538.4 L 807.91 538.4 L 810.92 538.4 L 813.92 538.4 L 816.93 538.4 L 819.93 538.4 L 822.94 538.4 L 825.95 538.4 L 828.95 538.4 L 831.96 538.4 L 834.96 538.4 L 837.97 538.4 L 840.97 538.4 L 843.98 538.4 L 846.98 538.4 L 849.99 538.4 L 853 538.4 L 856 538.4 L 859.01 538.4 L 862.01 538.4 L 865.02 538.4 L 868.02 538.4 L 871.03 538.4 L 874.04 538.4 L 877.04 538.4 L 880.05 538.4 L 883.05 538.4 L 886.06 538.4 L 889.06 538.4 L 892.07 538.4 L 895.08 538.4 L 898.08 538.4 L 901.09 538.4 L 904.09 538.4 L 907.1 538.4 L 910.1 538.4 L 913.11 538.4 L 916.12 538.4 L 919.12 538.4 L 922.13 538.4 L 925.13 538.4 L 928.14 538.4 L 931.14 538.4 L 934.15 538.4 L 937.15 538.4 L 940.16 538.4 L 943.17 538.4 L 946.17 538.4 L 949.18 538.4 L 952.18 538.4 L 955.19 538.4 L 958.19 538.4 L 961.2 538.4 L 961.2 538.4 L 961.2 538.4 L 958.19 538.4 L 955.19 538.4 L 952.18 538.4 L 949.18 538.4 L 946.17 538.4 L 943.17 538.4 L 940.16 538.4 L 937.15 538.4 L 934.15 538.4 L 931.14 538.4 L 928.14 538.4 L 925.13 538.4 L 922.13 538.4 L 919.12 538.4 L 916.12 538.4 L 913.11 538.4 L 910.1 538.4 L 907.1 538.4 L 904.09 538.4 L 901.09 538.4 L 898.08 538.4 L 895.08 538.4 L 892.07 538.4 L 889.06 538.4 L 886.06 538.4 L 883.05 538.4 L 880.05 538.4 L 877.04 538.4 L 874.04 538.4 L 871.03 538.4 L 868.02 538.4 L 865.02 538.4 L 862.01 538.4 L 859.01 538.4 L 856 538.4 L 853 538.4 L 849.99 538.4 L 846.98 538.4 L 843.98 538.4 L 840.97 538.4 L 837.97 538.4 L 834.96 538.4 L 831.96 538.4 L 828.95 538.4 L 825.95 538.4 L 822.94 538.4 L 819.93 538.4 L 816.93 538.4 L 813.92 538.4 L 810.92 538.4 L 807.91 538.4 L 804.91 538.4 L 801.9 538.4 L 798.89 538.4 L 795.89 538.4 L 792.88 538.4 L 789.88 538.4 L 786.87 538.4 L 783.87 538.4 L 780.86 538.4 L 777.85 538.4 L 774.85 538.4 L 771.84 538.4 L 768.84 538.4 L 765.83 538.39 L 762.83 538.39 L 759.82 538.39 L 756.81 538.39 L 753.81 538.39 L 750.8 538.39 L 747.8 538.39 L 744.79 538.39 L 741.79 538.39 L 738.78 538.39 L 735.77 538.39 L 732.77 538.39 L 729.76 538.39 L 726.76 538.39 L 723.75 538.39 L 720.75 538.38 L 717.74 538.38 L 714.74 538.38 L 711.73 538.38 L 708.72 538.38 L 705.72 538.38 L 702.71 538.38 L 699.71 538.37 L 696.7 538.37 L 693.7 538.37 L 690.69 538.37 L 687.68 538.36 L 684.68 538.36 L 681.67 538.36 L 678.67 538.35 L 675.66 538.35 L 672.66 538.35 L 669.65 538.34 L 666.64 538.34 L 663.64 538.33 L 660.63 538.33 L 657.63 538.32 L 654.62 538.32 L 651.62 538.31 L 648.61 538.3 L 645.61 538.3 L 642.6 538.29 L 639.59 538.28 L 636.59 538.27 L 633.58 538.26 L 630.58 538.25 L 627.57 538.24 L 624.57 538.23 L 621.56 538.21 L 618.55 538.2 L 615.55 538.18 L 612.54 538.16 L 609.54 538.15 L 606.53 538.13 L 603.53 538.1 L 600.52 538.08 L 597.51 538.06 L 594.51 538.03 L 591.5 538 L 588.5 537.97 L 585.49 537.94 L 582.49 537.9 L 579.48 537.86 L 576.47 537.82 L 573.47 537.77 L 570.46 537.72 L 567.46 537.67 L 564.45 537.61 L 561.45 537.55 L 558.44 537.49 L 555.43 537.42 L 552.43 537.34 L 549.42 537.26 L 546.42 537.17 L 543.41 537.07 L 540.41 536.97 L 537.4 536.86 L 534.4 536.74 L 531.39 536.61 L 528.38 536.47 L 525.38 536.32 L 522.37 536.16 L 519.37 535.98 L 516.36 535.79 L 513.36 535.59 L 510.35 535.37 L 507.34 535.14 L 504.34 534.89 L 501.33 534.62 L 498.33 534.32 L 495.32 534.01 L 492.32 533.67 L 489.31 533.31 L 486.3 532.91 L 483.3 532.49 L 480.29 532.04 L 477.29 531.55 L 474.28 531.03 L 471.28 530.47 L 468.27 529.86 L 465.26 529.21 L 462.26 528.52 L 459.25 527.77 L 456.25 526.97 L 453.24 526.11 L 450.24 525.19 L 447.23 524.2 L 444.23 523.14 L 441.22 522.01 L 438.21 520.8 L 435.21 519.5 L 432.2 518.12 L 429.2 516.64 L 426.19 515.06 L 423.19 513.38 L 420.18 511.59 L 417.17 509.68 L 414.17 507.65 L 411.16 505.5 L 408.16 503.21 L 405.15 500.79 L 402.15 498.23 L 399.14 495.52 L 396.13 492.66 L 393.13 489.65 L 390.12 486.49 L 387.12 483.16 L 384.11 479.69 L 381.11 476.05 L 378.1 472.26 L 375.1 468.32 L 372.09 464.23 L 369.08 460.01 L 366.08 455.65 L 363.07 451.19 L 360.07 446.62 L 357.06 441.96 L 354.06 437.25 L 351.05 432.49 L 348.04 427.72 L 345.04 422.97 L 342.03 418.27 L 339.03 413.65 L 336.02 409.15 L 333.02 404.82 L 330.01 400.69 L 327 396.81 L 324 393.22 L 320.99 389.97 L 317.99 387.09 L 314.98 384.62 L 311.98 382.61 L 308.97 381.07 L 305.96 380.05 L 302.96 379.56 L 299.95 379.61 L 296.95 380.22 L 293.94 381.37 L 290.94 383.07 L 287.93 385.29 L 284.93 388.02 L 281.92 391.22 L 278.91 394.86 L 275.91 398.88 L 272.9 403.26 L 269.9 407.93 L 266.89 412.86 L 263.89 417.98 L 260.88 423.24 L 257.87 428.6 L 254.87 434.01 L 251.86 439.42 L 248.86 444.8 L 245.85 450.1 L 242.85 455.31 L 239.84 460.38 L 236.83 465.3 L 233.83 470.04 L 230.82 474.6 L 227.82 478.95 L 224.81 483.11 L 221.81 487.05 L 218.8 490.78 L 215.79 494.29 L 212.79 497.6 L 209.78 500.71 L 206.78 503.61 L 203.77 506.32 L 200.77 508.85 L 197.76 511.2 L 194.75 513.39 L 191.75 515.41 L 188.74 517.29 L 185.74 519.02 L 182.73 520.63 L 179.73 522.1 L 176.72 523.47 L 173.72 524.72 L 170.71 525.87 L 167.7 526.93 L 164.7 527.91 L 161.69 528.8 L 158.69 529.62 L 155.68 530.38 L 152.68 531.07 L 149.67 531.7 L 146.66 532.28 L 143.66 532.81 L 140.65 533.29 L 137.65 533.73 L 134.64 534.14 L 131.64 534.51 L 128.63 534.85 L 125.62 535.16 L 122.62 535.44 L 119.61 535.7 L 116.61 535.94 L 113.6 536.15 L 110.6 536.35 L 107.59 536.53 L 104.58 536.69 L 101.58 536.84 L 98.57 536.98 L 95.57 537.1 L 92.56 537.22 L 89.56 537.32 L 86.55 537.42 L 83.55 537.5 L 80.54 537.58 L 77.53 537.65 L 74.53 537.71 L 71.52 537.76 L 68.52 537.81 L 65.51 537.85 L 62.51 537.87 L 59.5 537.88 z" clip-path="url(#pf25580472c)" style="fill: #ff7f0e; fill-opacity: 0.5"/>
   </g>
   <g id="FillBetweenPolyCollection_7">
    <path d="M 59.5 538.4 L 59.5 538.4 L 62.51 538.4 L 65.51 538.4 L 68.52 538.4 L 71.52 538.4 L 74.53 538.4 L 77.53 538.4 L 80.54 538.4 L 83.55 538.4 L 86.55 538.4 L 89.56 538.4 L 92.56 538.4 L 95.57 538.4 L 98.57 538.4 L 101.58 538.4 L 104.58 538.4 L 107.59 538.4 L 110.6 538.4 L 113.6 538.4 L 116.61 538.4 L 119.61 538.4 L 122.62 538.4 L 125.62 538.4 L 128.63 538.4 L 131.64 538.4 L 134.64 538.4 L 137.65 538.4 L 140.65 538.4 L 143.66 538.4 L 146.66 538.4 L 149.67 538.4 L 152.68 538.4 L 155.68 538.4 L 158.69 538.4 L 161.69 538.4 L 164.7 538.4 L 167.7 538.4 L 170.71 538.4 L 173.72 538.4 L 176.72 538.4 L 179.73 538.4 L 182.73 538.4 L 185.74 538.4 L 188.74 538.4 L 191.75 538.4 L 194.75 538.4 L 197.76 538.4 L 200.77 538.4 L 203.77 538.4 L 206.78 538.4 L 209.78 538.4 L 212.79 538.4 L 215.79 538.4 L 218.8 538.4 L 221.81 538.4 L 224.81 538.4 L 227.82 538.4 L 230.82 538.4 L 233.83 538.4 L 236.83 538.4 L 239.84 538.4 L 242.85 538.4 L 245.85 538.4 L 248.86 538.4 L 251.86 538.4 L 254.87 538.4 L 257.87 538.4 L 260.88 538.4 L 263.89 538.4 L 266.89 538.4 L 269.9 538.4 L 272.9 538.4 L 275.91 538.4 L 278.91 538.4 L 281.92 538.4 L 284.93 538.4 L 287.93 538.4 L 290.94 538.4 L 293.94 538.4 L 296.95 538.4 L 299.95 538.4 L 302.96 538.4 L 305.96 538.4 L 308.97 538.4 L 311.98 538.4 L 314.98 538.4 L 317.99 538.4 L 320.99 538.4 L 324 538.4 L 327 538.4 L 330.01 538.4 L 333.02 538.4 L 336.02 538.4 L 339.03 538.4 L 342.03 538.4 L 345.04 538.4 L 348.04 538.4 L 351.05 538.4 L 354.06 538.4 L 357.06 538.4 L 360.07 538.4 L 363.07 538.4 L 366.08 538.4 L 369.08 538.4 L 372.09 538.4 L 375.1 538.4 L 378.1 538.4 L 381.11 538.4 L 384.11 538.4 L 387.12 538.4 L 390.12 538.4 L 393.13 538.4 L 396.13 538.4 L 399.14 538.4 L 402.15 538.4 L 405.15 538.4 L 408.16 538.4 L 411.16 538.4 L 414.17 538.4 L 417.17 538.4 L 420.18 538.4 L 423.19 538.4 L 426.19 538.4 L 429.2 538.4 L 432.2 538.4 L 435.21 538.4 L 438.21 538.4 L 441.22 538.4 L 444.23 538.4 L 447.23 538.4 L 450.24 538.4 L 453.24 538.4 L 456.25 538.4 L 459.25 538.4 L 462.26 538.4 L 465.26 538.4 L 468.27 538.4 L 471.28 538.4 L 474.28 538.4 L 477.29 538.4 L 480.29 538.4 L 483.3 538.4 L 486.3 538.4 L 489.31 538.4 L 492.32 538.4 L 495.32 538.4 L 498.33 538.4 L 501.33 538.4 L 504.34 538.4 L 507.34 538.4 L 510.35 538.4 L 513.36 538.4 L 516.36 538.4 L 519.37 538.4 L 522.37 538.4 L 525.38 538.4 L 528.38 538.4 L 531.39 538.4 L 534.4 538.4 L 537.4 538.4 L 540.41 538.4 L 543.41 538.4 L 546.42 538.4 L 549.42 538.4 L 552.43 538.4 L 555.43 538.4 L 558.44 538.4 L 561.45 538.4 L 564.45 538.4 L 567.46 538.4 L 570.46 538.4 L 573.47 538.4 L 576.47 538.4 L 579.48 538.4 L 582.49 538.4 L 585.49 538.4 L 588.5 538.4 L 591.5 538.4 L 594.51 538.4 L 597.51 538.4 L 600.52 538.4 L 603.53 538.4 L 606.53 538.4 L 609.54 538.4 L 612.54 538.4 L 615.55 538.4 L 618.55 538.4 L 621.56 538.4 L 624.57 538.4 L 627.57 538.4 L 630.58 538.4 L 633.58 538.4 L 636.59 538.4 L 639.59 538.4 L 642.6 538.4 L 645.61 538.4 L 648.61 538.4 L 651.62 538.4 L 654.62 538.4 L 657.63 538.4 L 660.63 538.4 L 663.64 538.4 L 666.64 538.4 L 669.65 538.4 L 672.66 538.4 L 675.66 538.4 L 678.67 538.4 L 681.67 538.4 L 684.68 538.4 L 687.68 538.4 L 690.69 538.4 L 693.7 538.4 L 696.7 538.4 L 699.71 538.4 L 702.71 538.4 L 705.72 538.4 L 708.72 538.4 L 711.73 538.4 L 714.74 538.4 L 717.74 538.4 L 720.75 538.4 L 723.75 538.4 L 726.76 538.4 L 729.76 538.4 L 732.77 538.4 L 735.77 538.4 L 738.78 538.4 L 741.79 538.4 L 744.79 538.4 L 747.8 538.4 L 750.8 538.4 L 753.81 538.4 L 756.81 538.4 L 759.82 538.4 L 762.83 538.4 L 765.83 538.4 L 768.84 538.4 L 771.84 538.4 L 774.85 538.4 L 777.85 538.4 L 780.86 538.4 L 783.87 538.4 L 786.87 538.4 L 789.88 538.4 L 792.88 538.4 L 795.89 538.4 L 798.89 538.4 L 801.9 538.4 L 804.91 538.4 L 807.91 538.4 L 810.92 538.4 L 813.92 538.4 L 816.93 538.4 L 819.93 538.4 L 822.94 538.4 L 825.95 538.4 L 828.95 538.4 L 831.96 538.4 L 834.96 538.4 L 837.97 538.4 L 840.97 538.4 L 843.98 538.4 L 846.98 538.4 L 849.99 538.4 L 853 538.4 L 856 538.4 L 859.01 538.4 L 862.01 538.4 L 865.02 538.4 L 868.02 538.4 L 871.03 538.4 L 874.04 538.4 L 877.04 538.4 L 880.05 538.4 L 883.05 538.4 L 886.06 538.4 L 889.06 538.4 L 892.07 538.4 L 895.08 538.4 L 898.08 538.4 L 901.09 538.4 L 904.09 538.4 L 907.1 538.4 L 910.1 538.4 L 913.11 538.4 L 916.12 538.4 L 919.12 538.4 L 922.13 538.4 L 925.13 538.4 L 928.14 538.4 L 931.14 538.4 L 934.15 538.4 L 937.15 538.4 L 940.16 538.4 L 943.17 538.4 L 946.17 538.4 L 949.18 538.4 L 952.18 538.4 L 955.19 538.4 L 958.19 538.4 L 961.2 538.4 L 961.2 537.99 L 961.2 537.99 L 958.19 537.98 L 955.19 537.97 L 952.18 537.95 L 949.18 537.94 L 946.17 537.92 L 943.17 537.91 L 940.16 537.89 L 937.15 537.88 L 934.15 537.86 L 931.14 537.84 L 928.14 537.82 L 925.13 537.81 L 922.13 537.79 L 919.12 537.77 L 916.12 537.75 L 913.11 537.73 L 910.1 537.71 L 907.1 537.69 L 904.09 537.66 L 901.09 537.64 L 898.08 537.62 L 895.08 537.59 L 892.07 537.57 L 889.06 537.54 L 886.06 537.51 L 883.05 537.49 L 880.05 537.46 L 877.04 537.43 L 874.04 537.4 L 871.03 537.37 L 868.02 537.34 L 865.02 537.3 L 862.01 537.27 L 859.01 537.23 L 856 537.2 L 853 537.16 L 849.99 537.12 L 846.98 537.08 L 843.98 537.04 L 840.97 537 L 837.97 536.96 L 834.96 536.91 L 831.96 536.87 L 828.95 536.82 L 825.95 536.77 L 822.94 536.72 L 819.93 536.67 L 816.93 536.62 L 813.92 536.57 L 810.92 536.51 L 807.91 536.46 L 804.91 536.4 L 801.9 536.34 L 798.89 536.28 L 795.89 536.21 L 792.88 536.15 L 789.88 536.08 L 786.87 536.01 L 783.87 535.94 L 780.86 535.87 L 777.85 535.79 L 774.85 535.72 L 771.84 535.64 L 768.84 535.56 L 765.83 535.48 L 762.83 535.39 L 759.82 535.31 L 756.81 535.22 L 753.81 535.13 L 750.8 535.03 L 747.8 534.94 L 744.79 534.84 L 741.79 534.74 L 738.78 534.64 L 735.77 534.53 L 732.77 534.42 L 729.76 534.31 L 726.76 534.2 L 723.75 534.09 L 720.75 533.97 L 717.74 533.85 L 714.74 533.73 L 711.73 533.6 L 708.72 533.47 L 705.72 533.34 L 702.71 533.21 L 699.71 533.07 L 696.7 532.93 L 693.7 532.79 L 690.69 532.65 L 687.68 532.5 L 684.68 532.36 L 681.67 532.2 L 678.67 532.05 L 675.66 531.89 L 672.66 531.74 L 669.65 531.57 L 666.64 531.41 L 663.64 531.24 L 660.63 531.08 L 657.63 530.91 L 654.62 530.73 L 651.62 530.56 L 648.61 530.38 L 645.61 530.2 L 642.6 530.02 L 639.59 529.84 L 636.59 529.66 L 633.58 529.48 L 630.58 529.29 L 627.57 529.1 L 624.57 528.91 L 621.56 528.73 L 618.55 528.54 L 615.55 528.35 L 612.54 528.16 L 609.54 527.97 L 606.53 527.78 L 603.53 527.59 L 600.52 527.4 L 597.51 527.21 L 594.51 527.02 L 591.5 526.83 L 588.5 526.65 L 585.49 526.46 L 582.49 526.28 L 579.48 526.1 L 576.47 525.93 L 573.47 525.75 L 570.46 525.58 L 567.46 525.41 L 564.45 525.25 L 561.45 525.08 L 558.44 524.93 L 555.43 524.77 L 552.43 524.63 L 549.42 524.48 L 546.42 524.34 L 543.41 524.21 L 540.41 524.08 L 537.4 523.96 L 534.4 523.84 L 531.39 523.73 L 528.38 523.63 L 525.38 523.53 L 522.37 523.44 L 519.37 523.36 L 516.36 523.29 L 513.36 523.22 L 510.35 523.16 L 507.34 523.1 L 504.34 523.06 L 501.33 523.02 L 498.33 522.99 L 495.32 522.97 L 492.32 522.96 L 489.31 522.96 L 486.3 522.96 L 483.3 522.97 L 480.29 522.99 L 477.29 523.02 L 474.28 523.06 L 471.28 523.1 L 468.27 523.16 L 465.26 523.22 L 462.26 523.29 L 459.25 523.36 L 456.25 523.45 L 453.24 523.54 L 450.24 523.64 L 447.23 523.74 L 444.23 523.85 L 441.22 523.97 L 438.21 524.1 L 435.21 524.23 L 432.2 524.37 L 429.2 524.51 L 426.19 524.66 L 423.19 524.81 L 420.18 524.97 L 417.17 525.14 L 414.17 525.3 L 411.16 525.48 L 408.16 525.65 L 405.15 525.83 L 402.15 526.01 L 399.14 526.2 L 396.13 526.38 L 393.13 526.57 L 390.12 526.76 L 387.12 526.96 L 384.11 527.15 L 381.11 527.35 L 378.1 527.55 L 375.1 527.75 L 372.09 527.94 L 369.08 528.14 L 366.08 528.34 L 363.07 528.54 L 360.07 528.74 L 357.06 528.94 L 354.06 529.13 L 351.05 529.33 L 348.04 529.53 L 345.04 529.72 L 342.03 529.91 L 339.03 530.1 L 336.02 530.29 L 333.02 530.48 L 330.01 530.66 L 327 530.85 L 324 531.03 L 320.99 531.2 L 317.99 531.38 L 314.98 531.55 L 311.98 531.73 L 308.97 531.89 L 305.96 532.06 L 302.96 532.22 L 299.95 532.38 L 296.95 532.54 L 293.94 532.69 L 290.94 532.85 L 287.93 532.99 L 284.93 533.14 L 281.92 533.28 L 278.91 533.42 L 275.91 533.56 L 272.9 533.69 L 269.9 533.83 L 266.89 533.95 L 263.89 534.08 L 260.88 534.2 L 257.87 534.32 L 254.87 534.44 L 251.86 534.55 L 248.86 534.67 L 245.85 534.77 L 242.85 534.88 L 239.84 534.98 L 236.83 535.09 L 233.83 535.18 L 230.82 535.28 L 227.82 535.37 L 224.81 535.46 L 221.81 535.55 L 218.8 535.64 L 215.79 535.72 L 212.79 535.8 L 209.78 535.88 L 206.78 535.96 L 203.77 536.04 L 200.77 536.11 L 197.76 536.18 L 194.75 536.25 L 191.75 536.31 L 188.74 536.38 L 185.74 536.44 L 182.73 536.5 L 179.73 536.56 L 176.72 536.62 L 173.72 536.68 L 170.71 536.73 L 167.7 536.78 L 164.7 536.84 L 161.69 536.89 L 158.69 536.93 L 155.68 536.98 L 152.68 537.03 L 149.67 537.07 L 146.66 537.12 L 143.66 537.16 L 140.65 537.2 L 137.65 537.24 L 134.64 537.29 L 131.64 537.33 L 128.63 537.38 L 125.62 537.43 L 122.62 537.49 L 119.61 537.56 L 116.61 537.63 L 113.6 537.7 L 110.6 537.76 L 107.59 537.82 L 104.58 537.87 L 101.58 537.92 L 98.57 537.96 L 95.57 538 L 92.56 538.03 L 89.56 538.07 L 86.55 538.1 L 83.55 538.13 L 80.54 538.15 L 77.53 538.18 L 74.53 538.2 L 71.52 538.23 L 68.52 538.26 L 65.51 538.29 L 62.51 538.34 L 59.5 538.4 z" clip-path="url(#pf25580472c)" style="fill: #2ca02c; fill-opacity: 0.5"/>
   </g>
   <g id="FillBetweenPolyCollection_8">
    <path d="M 59.5 537.88 L 59.5 538.4 L 62.51 538.34 L 65.51 538.29 L 68.52 538.26 L 71.52 538.23 L 74.53 538.2 L 77.53 538.18 L 80.54 538.15 L 83.55 538.13 L 86.55 538.1 L 89.56 538.07 L 92.56 538.03 L 95.57 538 L 98.57 537.96 L 101.58 537.92 L 104.58 537.87 L 107.59 537.82 L 110.6 537.76 L 113.6 537.7 L 116.61 537.63 L 119.61 537.56 L 122.62 537.49 L 125.62 537.43 L 128.63 537.38 L 131.64 537.33 L 134.64 537.29 L 137.65 537.24 L 140.65 537.2 L 143.66 537.16 L 146.66 537.12 L 149.67 537.07 L 152.68 537.03 L 155.68 536.98 L 158.69 536.93 L 161.69 536.89 L 164.7 536.84 L 167.7 536.78 L 170.71 536.73 L 173.72 536.68 L 176.72 536.62 L 179.73 536.56 L 182.73 536.5 L 185.74 536.44 L 188.74 536.38 L 191.75 536.31 L 194.75 536.25 L 197.76 536.18 L 200.77 536.11 L 203.77 536.04 L 206.78 535.96 L 209.78 535.88 L 212.79 535.8 L 215.79 535.72 L 218.8 535.64 L 221.81 535.55 L 224.81 535.46 L 227.82 535.37 L 230.82 535.28 L 233.83 535.18 L 236.83 535.09 L 239.84 534.98 L 242.85 534.88 L 245.85 534.77 L 248.86 534.67 L 251.86 534.55 L 254.87 534.44 L 257.87 534.32 L 260.88 534.2 L 263.89 534.08 L 266.89 533.95 L 269.9 533.83 L 272.9 533.69 L 275.91 533.56 L 278.91 533.42 L 281.92 533.28 L 284.93 533.14 L 287.93 532.99 L 290.94 532.85 L 293.94 532.69 L 296.95 532.54 L 299.95 532.38 L 302.96 532.22 L 305.96 532.06 L 308.97 531.89 L 311.98 531.73 L 314.98 531.55 L 317.99 531.38 L 320.99 531.2 L 324 531.03 L 327 530.85 L 330.01 530.66 L 333.02 530.48 L 336.02 530.29 L 339.03 530.1 L 342.03 529.91 L 345.04 529.72 L 348.04 529.53 L 351.05 529.33 L 354.06 529.13 L 357.06 528.94 L 360.07 528.74 L 363.07 528.54 L 366.08 528.34 L 369.08 528.14 L 372.09 527.94 L 375.1 527.75 L 378.1 527.55 L 381.11 527.35 L 384.11 527.15 L 387.12 526.96 L 390.12 526.76 L 393.13 526.57 L 396.13 526.38 L 399.14 526.2 L 402.15 526.01 L 405.15 525.83 L 408.16 525.65 L 411.16 525.48 L 414.17 525.3 L 417.17 525.14 L 420.18 524.97 L 423.19 524.81 L 426.19 524.66 L 429.2 524.51 L 432.2 524.37 L 435.21 524.23 L 438.21 524.1 L 441.22 523.97 L 444.23 523.85 L 447.23 523.74 L 450.24 523.64 L 453.24 523.54 L 456.25 523.45 L 459.25 523.36 L 462.26 523.29 L 465.26 523.22 L 468.27 523.16 L 471.28 523.1 L 474.28 523.06 L 477.29 523.02 L 480.29 522.99 L 483.3 522.97 L 486.3 522.96 L 489.31 522.96 L 492.32 522.96 L 495.32 522.97 L 498.33 522.99 L 501.33 523.02 L 504.34 523.06 L 507.34 523.1 L 510.35 523.16 L 513.36 523.22 L 516.36 523.29 L 519.37 523.36 L 522.37 523.44 L 525.38 523.53 L 528.38 523.63 L 531.39 523.73 L 534.4 523.84 L 537.4 523.96 L 540.41 524.08 L 543.41 524.21 L 546.42 524.34 L 549.42 524.48 L 552.43 524.63 L 555.43 524.77 L 558.44 524.93 L 561.45 525.08 L 564.45 525.25 L 567.46 525.41 L 570.46 525.58 L 573.47 525.75 L 576.47 525.93 L 579.48 526.1 L 582.49 526.28 L 585.49 526.46 L 588.5 526.65 L 591.5 526.83 L 594.51 527.02 L 597.51 527.21 L 600.52 527.4 L 603.53 527.59 L 606.53 527.78 L 609.54 527.97 L 612.54 528.16 L 615.55 528.35 L 618.55 528.54 L 621.56 528.73 L 624.57 528.91 L 627.57 529.1 L 630.58 529.29 L 633.58 529.48 L 636.59 529.66 L 639.59 529.84 L 642.6 530.02 L 645.61 530.2 L 648.61 530.38 L 651.62 530.56 L 654.62 530.73 L 657.63 530.91 L 660.63 531.08 L 663.64 531.24 L 666.64 531.41 L 669.65 531.57 L 672.66 531.74 L 675.66 531.89 L 678.67 532.05 L 681.67 532.2 L 684.68 532.36 L 687.68 532.5 L 690.69 532.65 L 693.7 532.79 L 696.7 532.93 L 699.71 533.07 L 702.71 533.21 L 705.72 533.34 L 708.72 533.47 L 711.73 533.6 L 714.74 533.73 L 717.74 533.85 L 720.75 533.97 L 723.75 534.09 L 726.76 534.2 L 729.76 534.31 L 732.77 534.42 L 735.77 534.53 L 738.78 534.64 L 741.79 534.74 L 744.79 534.84 L 747.8 534.94 L 750.8 535.03 L 753.81 535.13 L 756.81 535.22 L 759.82 535.31 L 762.83 535.39 L 765.83 535.48 L 768.84 535.56 L 771.84 535.64 L 774.85 535.72 L 777.85 535.79 L 780.86 535.87 L 783.87 535.94 L 786.87 536.01 L 789.88 536.08 L 792.88 536.15 L 795.89 536.21 L 798.89 536.28 L 801.9 536.34 L 804.91 536.4 L 807.91 536.46 L 810.92 536.51 L 813.92 536.57 L 816.93 536.62 L 819.93 536.67 L 822.94 536.72 L 825.95 536.77 L 828.95 536.82 L 831.96 536.87 L 834.96 536.91 L 837.97 536.96 L 840.97 537 L 843.98 537.04 L 846.98 537.08 L 849.99 537.12 L 853 537.16 L 856 537.2 L 859.01 537.23 L 862.01 537.27 L 865.02 537.3 L 868.02 537.34 L 871.03 537.37 L 874.04 537.4 L 877.04 537.43 L 880.05 537.46 L 883.05 537.49 L 886.06 537.51 L 889.06 537.54 L 892.07 537.57 L 895.08 537.59 L 898.08 537.62 L 901.09 537.64 L 904.09 537.66 L 907.1 537.69 L 910.1 537.71 L 913.11 537.73 L 916.12 537.75 L 919.12 537.77 L 922.13 537.79 L 925.13 537.81 L 928.14 537.82 L 931.14 537.84 L 934.15 537.86 L 937.15 537.88 L 940.16 537.89 L 943.17 537.91 L 946.17 537.92 L 949.18 537.94 L 952.18 537.95 L 955.19 537.97 L 958.19 537.98 L 961.2 537.99 L 961.2 537.45 L 961.2 537.45 L 958.19 537.42 L 955.19 537.39 L 952.18 537.36 L 949.18 537.33 L 946.17 537.29 L 943.17 537.26 L 940.16 537.22 L 937.15 537.19 L 934.15 537.15 L 931.14 537.11 L 928.14 537.07 L 925.13 537.02 L 922.13 536.98 L 919.12 536.94 L 916.12 536.89 L 913.11 536.84 L 910.1 536.79 L 907.1 536.74 L 904.09 536.69 L 901.09 536.64 L 898.08 536.58 L 895.08 536.52 L 892.07 536.47 L 889.06 536.41 L 886.06 536.34 L 883.05 536.28 L 880.05 536.21 L 877.04 536.14 L 874.04 536.07 L 871.03 536 L 868.02 535.93 L 865.02 535.85 L 862.01 535.77 L 859.01 535.69 L 856 535.6 L 853 535.52 L 849.99 535.43 L 846.98 535.34 L 843.98 535.24 L 840.97 535.15 L 837.97 535.05 L 834.96 534.94 L 831.96 534.84 L 828.95 534.73 L 825.95 534.61 L 822.94 534.5 L 819.93 534.38 L 816.93 534.26 L 813.92 534.13 L 810.92 534 L 807.91 533.87 L 804.91 533.73 L 801.9 533.59 L 798.89 533.45 L 795.89 533.3 L 792.88 533.14 L 789.88 532.99 L 786.87 532.83 L 783.87 532.66 L 780.86 532.49 L 777.85 532.31 L 774.85 532.13 L 771.84 531.95 L 768.84 531.76 L 765.83 531.57 L 762.83 531.37 L 759.82 531.16 L 756.81 530.95 L 753.81 530.74 L 750.8 530.52 L 747.8 530.29 L 744.79 530.06 L 741.79 529.82 L 738.78 529.58 L 735.77 529.33 L 732.77 529.07 L 729.76 528.81 L 726.76 528.54 L 723.75 528.27 L 720.75 527.98 L 717.74 527.7 L 714.74 527.4 L 711.73 527.1 L 708.72 526.8 L 705.72 526.48 L 702.71 526.17 L 699.71 525.84 L 696.7 525.51 L 693.7 525.17 L 690.69 524.82 L 687.68 524.47 L 684.68 524.11 L 681.67 523.74 L 678.67 523.37 L 675.66 522.99 L 672.66 522.6 L 669.65 522.21 L 666.64 521.81 L 663.64 521.4 L 660.63 520.99 L 657.63 520.57 L 654.62 520.15 L 651.62 519.72 L 648.61 519.28 L 645.61 518.84 L 642.6 518.4 L 639.59 517.95 L 636.59 517.49 L 633.58 517.03 L 630.58 516.57 L 627.57 516.1 L 624.57 515.63 L 621.56 515.15 L 618.55 514.67 L 615.55 514.19 L 612.54 513.71 L 609.54 513.23 L 606.53 512.74 L 603.53 512.26 L 600.52 511.77 L 597.51 511.28 L 594.51 510.8 L 591.5 510.31 L 588.5 509.83 L 585.49 509.35 L 582.49 508.87 L 579.48 508.4 L 576.47 507.93 L 573.47 507.46 L 570.46 507.01 L 567.46 506.55 L 564.45 506.11 L 561.45 505.67 L 558.44 505.24 L 555.43 504.82 L 552.43 504.4 L 549.42 504 L 546.42 503.61 L 543.41 503.23 L 540.41 502.86 L 537.4 502.51 L 534.4 502.17 L 531.39 501.84 L 528.38 501.53 L 525.38 501.24 L 522.37 500.96 L 519.37 500.7 L 516.36 500.45 L 513.36 500.22 L 510.35 500.01 L 507.34 499.82 L 504.34 499.65 L 501.33 499.5 L 498.33 499.37 L 495.32 499.25 L 492.32 499.16 L 489.31 499.09 L 486.3 499.04 L 483.3 499.01 L 480.29 499 L 477.29 499.02 L 474.28 499.05 L 471.28 499.11 L 468.27 499.18 L 465.26 499.28 L 462.26 499.4 L 459.25 499.54 L 456.25 499.7 L 453.24 499.88 L 450.24 500.08 L 447.23 500.3 L 444.23 500.53 L 441.22 500.79 L 438.21 501.06 L 435.21 501.35 L 432.2 501.66 L 429.2 501.99 L 426.19 502.32 L 423.19 502.68 L 420.18 503.05 L 417.17 503.43 L 414.17 503.83 L 411.16 504.24 L 408.16 504.66 L 405.15 505.09 L 402.15 505.53 L 399.14 505.98 L 396.13 506.44 L 393.13 506.9 L 390.12 507.38 L 387.12 507.86 L 384.11 508.35 L 381.11 508.84 L 378.1 509.33 L 375.1 509.83 L 372.09 510.34 L 369.08 510.84 L 366.08 511.35 L 363.07 511.86 L 360.07 512.36 L 357.06 512.87 L 354.06 513.38 L 351.05 513.89 L 348.04 514.39 L 345.04 514.9 L 342.03 515.4 L 339.03 515.89 L 336.02 516.39 L 333.02 516.88 L 330.01 517.36 L 327 517.85 L 324 518.32 L 320.99 518.79 L 317.99 519.26 L 314.98 519.72 L 311.98 520.17 L 308.97 520.62 L 305.96 521.06 L 302.96 521.5 L 299.95 521.92 L 296.95 522.35 L 293.94 522.76 L 290.94 523.17 L 287.93 523.57 L 284.93 523.96 L 281.92 524.34 L 278.91 524.72 L 275.91 525.09 L 272.9 525.46 L 269.9 525.81 L 266.89 526.16 L 263.89 526.5 L 260.88 526.83 L 257.87 527.16 L 254.87 527.48 L 251.86 527.79 L 248.86 528.09 L 245.85 528.39 L 242.85 528.68 L 239.84 528.96 L 236.83 529.24 L 233.83 529.51 L 230.82 529.77 L 227.82 530.02 L 224.81 530.27 L 221.81 530.52 L 218.8 530.75 L 215.79 530.98 L 212.79 531.21 L 209.78 531.42 L 206.78 531.64 L 203.77 531.84 L 200.77 532.04 L 197.76 532.24 L 194.75 532.43 L 191.75 532.61 L 188.74 532.79 L 185.74 532.96 L 182.73 533.13 L 179.73 533.3 L 176.72 533.46 L 173.72 533.61 L 170.71 533.76 L 167.7 533.91 L 164.7 534.05 L 161.69 534.19 L 158.69 534.32 L 155.68 534.45 L 152.68 534.58 L 149.67 534.7 L 146.66 534.82 L 143.66 534.93 L 140.65 535.04 L 137.65 535.15 L 134.64 535.25 L 131.64 535.35 L 128.63 535.44 L 125.62 535.53 L 122.62 535.62 L 119.61 535.7 L 116.61 535.94 L 113.6 536.15 L 110.6 536.35 L 107.59 536.53 L 104.58 536.69 L 101.58 536.84 L 98.57 536.98 L 95.57 537.1 L 92.56 537.22 L 89.56 537.32 L 86.55 537.42 L 83.55 537.5 L 80.54 537.58 L 77.53 537.65 L 74.53 537.71 L 71.52 537.76 L 68.52 537.81 L 65.51 537.85 L 62.51 537.87 L 59.5 537.88 z" clip-path="url(#pf25580472c)" style="fill: #ff7f0e; fill-opacity: 0.5"/>
   </g>
   <g id="line2d_113">
    <path d="M 119.61 538.4 L 119.61 320.6" clip-path="url(#pf25580472c)" style="fill: none; stroke: #e20f12; stroke-width: 4.28; stroke-linecap: square"/>
   </g>
   <g id="patch_15">
    <path d="M 59.5 538.4 L 59.5 320.6" style="fill: none; stroke: #000000; stroke-width: 0.93; stroke-linejoin: miter; stroke-linecap: square"/>
   </g>
   <g id="patch_16">
    <path d="M 961.2 538.4 L 961.2 320.6" style="fill: none; stroke: #000000; stroke-width: 0.93; stroke-linejoin: miter; stroke-linecap: square"/>
   </g>
   <g id="patch_17">
    <path d="M 59.5 538.4 L 961.2 538.4" style="fill: none; stroke: #000000; stroke-width: 0.93; stroke-linejoin: miter; stroke-linecap: square"/>
   </g>
   <g id="patch_18">
    <path d="M 59.5 320.6 L 961.2 320.6" style="fill: none; stroke: #000000; stroke-width: 0.93; stroke-linejoin: miter; stroke-linecap: square"/>
   </g>
   <g id="text_41">
    <text style="font-size: 11.57px; text-anchor: start" x="300.75" y="374">No social distancing</text>
   </g>
   <g id="text_42">
    <text style="font-size: 11.57px; text-anchor: start" x="482.09" y="493">With  40% effective social distancing</text>
   </g>
   <g id="text_43">
    <text style="font-size: 13.92px; text-anchor: middle" x="509.65" y="313">Infected Population with no Social Distancing and with  40% Effective Social Distancing</text>
   </g>
   <g id="legend_2">
    <g id="patch_19">
     <path d="M 756.68 364.17 L 953.1 364.17 Q 955.41 364.17 955.41 361.85 L 955.41 328.7 Q 955.41 326.38 953.1 326.38 L 756.68 326.38 Q 754.37 326.38 754.37 328.7 L 754.37 361.85 Q 754.37 364.17 756.68 364.17 z" style="fill: #ffffff; opacity: 0.8; stroke: #cccccc; stroke-width: 1.16; stroke-linejoin: miter"/>
    </g>
    <g id="patch_20">
     <path d="M 758.5 339.8 L 781.64 339.8 L 781.64 331.71 L 758.5 331.71 z" style="fill: #2ca02c; fill-opacity: 0.5"/>
    </g>
    <g id="text_44">
     <text style="font-size: 11.47px; text-anchor: start" x="790.89" y="340">Infective/Symptomatic</text>
    </g>
    <g id="patch_21">
     <path d="M 758.5 357.13 L 781.64 357.13 L 781.64 349.04 L 758.5 349.04 z" style="fill: #ff7f0e; fill-opacity: 0.5"/>
    </g>
    <g id="text_45">
     <text style="font-size: 11.47px; text-anchor: start" x="790.89" y="357">Exposed/Not Sympotomatic</text>
    </g>
   </g>
  </g>
 </g>
 <defs>
  <clipPath id="p49906fe7d5">
   <rect x="59.5" y="35.35" width="901.7" height="217.95"/>
  </clipPath>
  <clipPath id="pf25580472c">
   <rect x="59.5" y="320.6" width="901.7" height="217.8"/>
  </clipPath>
 </defs>
</svg>

</body></html>
